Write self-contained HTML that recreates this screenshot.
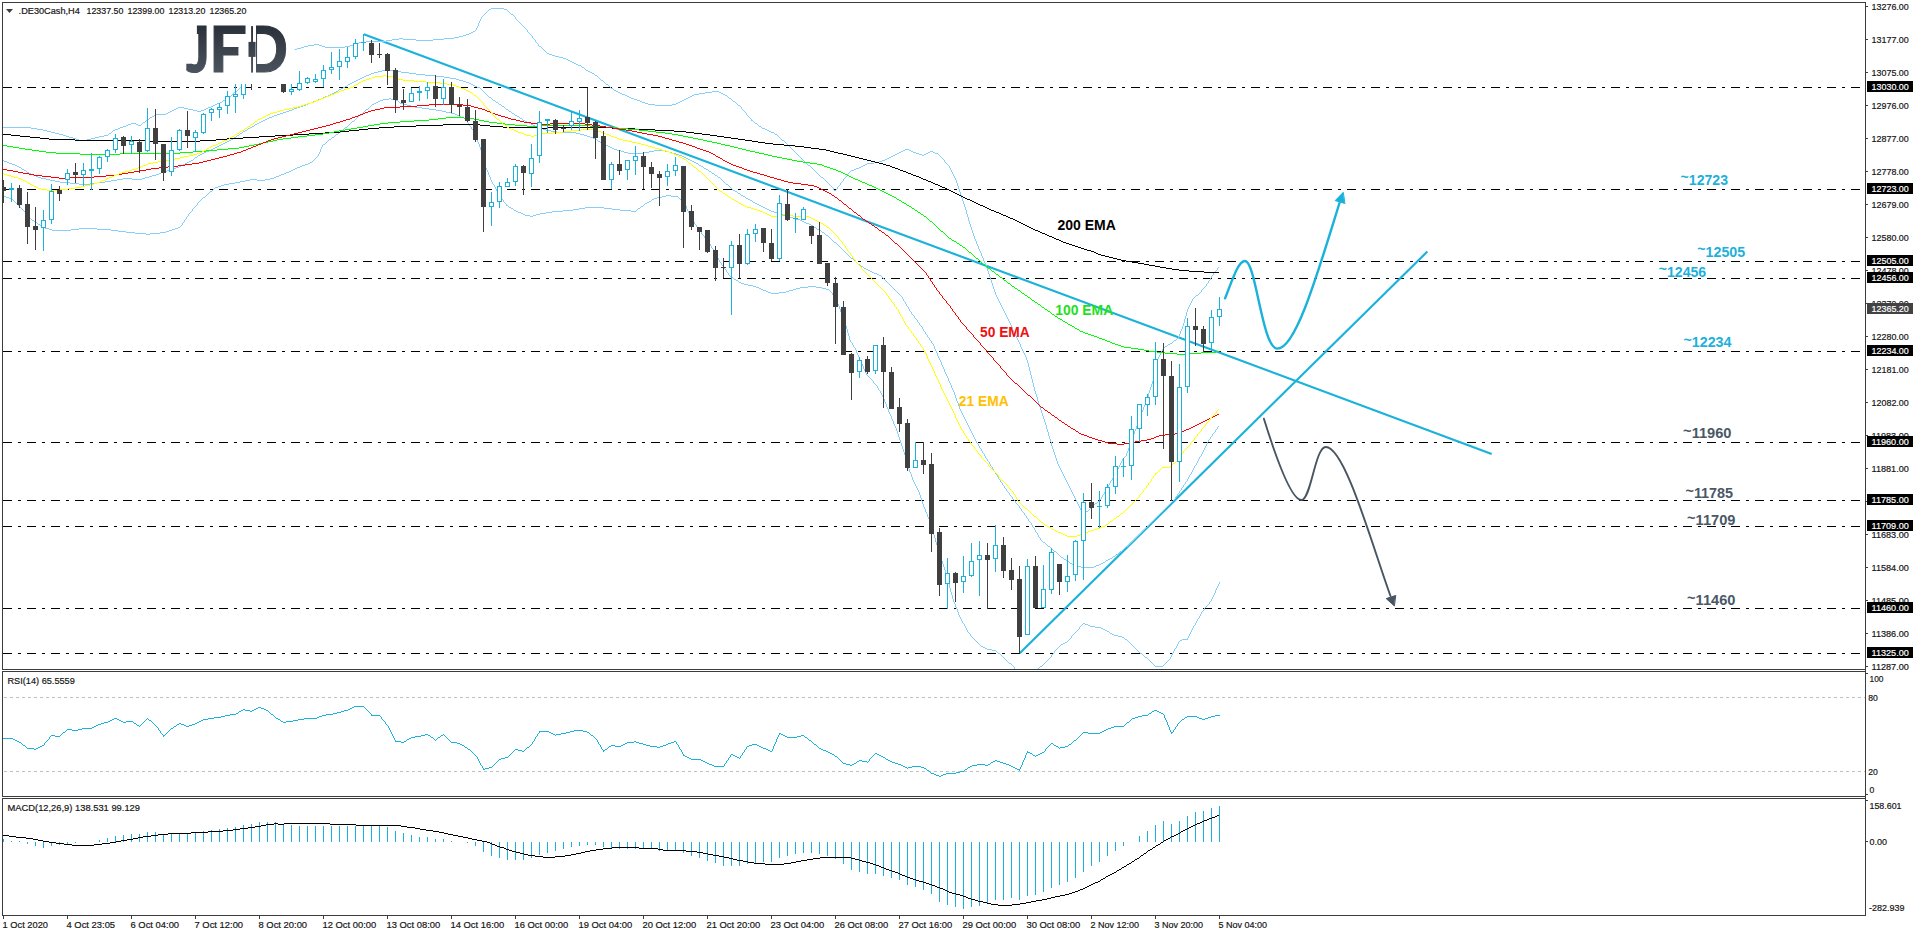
<!DOCTYPE html>
<html lang="en"><head><meta charset="utf-8"><title>.DE30Cash H4</title>
<style>html,body{margin:0;padding:0;background:#fff}body{width:1916px;height:936px;overflow:hidden}svg{display:block}text{font-family:"Liberation Sans","DejaVu Sans",sans-serif}.s{font-size:9.8px;fill:#151515;stroke:#151515;stroke-width:.2px}.w{font-size:9.8px;fill:#fff;stroke:#fff;stroke-width:.2px}.b{font-size:14.2px;font-weight:bold}</style></head><body>
<svg width="1916" height="936" viewBox="0 0 1916 936">
<defs><linearGradient id="lg" x1="0" y1="0" x2="0" y2="1"><stop offset="0.19" stop-color="#2b313a"/><stop offset="0.81" stop-color="#4a535d"/></linearGradient><linearGradient id="lgr" gradientUnits="userSpaceOnUse" x1="0" y1="26" x2="0" y2="73"><stop offset="0" stop-color="#2b313a"/><stop offset="1" stop-color="#4a535d"/></linearGradient><clipPath id="main"><rect x="3" y="3" width="1862" height="666"/></clipPath><clipPath id="dclip"><rect x="256" y="20" width="40" height="60"/></clipPath><clipPath id="jclip"><path d="M196.9 20 H210 V80 H186.3 V63.8 H196.9 Z"/></clipPath><clipPath id="fclip"><path d="M210 20 H246 V40 H238.4 V60 H210 Z M210 60 H246 V80 H210 Z"/></clipPath></defs>
<rect width="1916" height="936" fill="#fff"/>
<g shape-rendering="crispEdges" stroke="#000" stroke-width="1" stroke-dasharray="9 6 3 6">
<line x1="3" y1="87.5" x2="1865" y2="87.5"/>
<line x1="3" y1="189.5" x2="1865" y2="189.5"/>
<line x1="3" y1="261.5" x2="1865" y2="261.5"/>
<line x1="3" y1="278.5" x2="1865" y2="278.5"/>
<line x1="3" y1="351.5" x2="1865" y2="351.5"/>
<line x1="3" y1="442.5" x2="1865" y2="442.5"/>
<line x1="3" y1="500.5" x2="1865" y2="500.5"/>
<line x1="3" y1="526.5" x2="1865" y2="526.5"/>
<line x1="3" y1="608.5" x2="1865" y2="608.5"/>
<line x1="3" y1="653.5" x2="1865" y2="653.5"/>
</g>
<g shape-rendering="crispEdges" stroke="#c0c0c0" stroke-width="1" stroke-dasharray="3 3">
<line x1="4" y1="697.5" x2="1865" y2="697.5"/><line x1="4" y1="771.5" x2="1865" y2="771.5"/></g>
<g clip-path="url(#main)" fill="none" stroke="#1ab2da" stroke-linecap="butt">
<line x1="363.8" y1="34.3" x2="1491.7" y2="453.9" stroke-width="2.15"/>
<line x1="1019.7" y1="653.2" x2="1427.3" y2="251.6" stroke-width="2.15"/>
</g>
<g clip-path="url(#main)" shape-rendering="crispEdges">
<path d="M3 127h28v1h-28zM31 128h6v1h-6zM37 129h6v1h-6zM43 130h4v1h-4zM47 131h4v1h-4zM51 132h4v1h-4zM55 133h4v1h-4zM59 134h4v1h-4zM63 135h3v1h-3zM66 136h3v1h-3zM69 137h4v1h-4zM73 138h3v1h-3zM76 139h3v1h-3zM79 140h8v1h-8zM87 139h4v1h-4zM91 138h4v1h-4zM95 137h4v1h-4zM99 136h5v1h-5zM104 135h4v1h-4zM108 134h1v1h-1zM109 133h2v1h-2zM111 132h1v1h-1zM112 131h1v1h-1zM113 130h2v1h-2zM115 129h3v1h-3zM118 128h2v1h-2zM120 127h3v1h-3zM123 126h3v1h-3zM126 125h2v1h-2zM128 124h3v1h-3zM131 123h5v1h-5zM136 124h2v1h-2zM138 125h3v1h-3zM141 124h1v1h-1zM142 123h1v1h-1zM143 122h2v1h-2zM145 121h1v1h-1zM146 120h1v1h-1zM147 119h2v1h-2zM149 118h1v1h-1zM150 117h2v1h-2zM152 116h2v1h-2zM154 115h2v1h-2zM156 114h10v1h-10zM166 113h2v1h-2zM168 112h2v1h-2zM170 111h2v1h-2zM172 110h2v1h-2zM174 109h2v1h-2zM176 108h2v1h-2zM178 107h6v1h-6zM184 108h4v1h-4zM188 109h5v1h-5zM193 110h4v1h-4zM197 111h4v1h-4zM201 110h3v1h-3zM204 109h2v1h-2zM206 108h2v1h-2zM208 107h3v1h-3zM211 106h2v1h-2zM213 105h2v1h-2zM215 104h2v1h-2zM217 103h3v1h-3zM220 102h2v1h-2zM222 101h1v1h-1zM223 100h2v1h-2zM225 99h1v1h-1zM226 98h2v1h-2zM228 97h1v1h-1zM229 96h2v1h-2zM231 95h1v1h-1zM232 94h1v1h-1zM233 93h1v1h-1zM234 92h1v1h-1zM235 91h2v1h-2zM237 90h1v1h-1zM238 89h1v1h-1zM239 88h1v1h-1zM240 87h1v1h-1zM241 86h1v1h-1zM242 85h1v1h-1zM243 84h1v1h-1zM244 83h1v1h-1zM245 82h1v1h-1zM246 81h1v1h-1zM247 80h1v1h-1zM248 79h1v1h-1zM249 78h2v1h-2zM251 77h1v1h-1zM252 76h1v1h-1zM253 75h1v1h-1zM254 74h1v1h-1zM255 73h1v1h-1zM256 72h2v1h-2zM258 71h1v1h-1zM259 70h1v1h-1zM260 69h1v1h-1zM261 68h2v1h-2zM263 67h1v1h-1zM264 66h1v1h-1zM265 65h1v1h-1zM266 64h2v1h-2zM268 63h1v1h-1zM269 62h1v1h-1zM270 61h1v1h-1zM271 60h2v1h-2zM273 59h1v1h-1zM274 58h1v1h-1zM275 57h2v1h-2zM277 56h3v1h-3zM280 55h2v1h-2zM282 54h3v1h-3zM285 53h2v1h-2zM287 52h2v1h-2zM289 51h3v1h-3zM292 50h2v1h-2zM294 49h3v1h-3zM297 48h4v1h-4zM301 47h3v1h-3zM304 46h4v1h-4zM308 45h6v1h-6zM314 44h5v1h-5zM319 45h3v1h-3zM322 46h3v1h-3zM325 47h20v1h-20zM345 46h5v1h-5zM350 45h3v1h-3zM353 44h3v1h-3zM356 43h3v1h-3zM359 42h7v1h-7zM366 41h20v1h-20zM386 40h6v1h-6zM392 39h7v1h-7zM399 38h4v1h-4zM403 39h13v1h-13zM416 40h17v1h-17zM433 39h11v1h-11zM444 38h10v1h-10zM454 37h5v1h-5zM459 36h4v1h-4zM463 35h3v1h-3zM466 34h3v1h-3zM469 33h2v1h-2zM471 32h2v1h-2zM473 31h2v1h-2zM475 30h1v1h-1zM476 28h1v2h-1zM477 26h1v2h-1zM478 23h1v3h-1zM479 21h1v2h-1zM480 19h1v2h-1zM481 17h1v2h-1zM482 16h1v1h-1zM483 15h1v1h-1zM484 14h1v1h-1zM485 13h1v1h-1zM486 12h1v1h-1zM487 11h1v1h-1zM488 10h1v1h-1zM489 9h2v1h-2zM491 8h13v1h-13zM504 9h3v1h-3zM507 10h1v1h-1zM508 11h1v1h-1zM509 12h1v1h-1zM510 13h1v1h-1zM511 14h2v1h-2zM513 15h1v1h-1zM514 16h1v1h-1zM515 17h1v2h-1zM516 19h1v1h-1zM517 20h1v1h-1zM518 21h1v1h-1zM519 22h1v1h-1zM520 23h1v1h-1zM521 24h1v1h-1zM522 25h1v1h-1zM523 26h1v1h-1zM524 27h1v1h-1zM525 28h1v1h-1zM526 29h1v1h-1zM527 30h1v2h-1zM528 32h1v1h-1zM529 33h1v1h-1zM530 34h1v1h-1zM531 35h1v1h-1zM532 36h1v2h-1zM533 38h1v1h-1zM534 39h1v1h-1zM535 40h1v2h-1zM536 42h1v1h-1zM537 43h1v1h-1zM538 44h1v2h-1zM539 46h2v1h-2zM541 47h1v1h-1zM542 48h1v1h-1zM543 49h1v1h-1zM544 50h1v1h-1zM545 51h1v1h-1zM546 52h1v1h-1zM547 53h2v1h-2zM549 54h3v1h-3zM552 55h3v1h-3zM555 56h4v1h-4zM559 57h4v1h-4zM563 58h3v1h-3zM566 59h2v1h-2zM568 60h2v1h-2zM570 61h2v1h-2zM572 62h2v1h-2zM574 63h2v1h-2zM576 64h2v1h-2zM578 65h3v1h-3zM581 66h1v1h-1zM582 67h2v1h-2zM584 68h1v1h-1zM585 69h1v1h-1zM586 70h2v1h-2zM588 71h2v1h-2zM590 72h2v1h-2zM592 73h2v1h-2zM594 74h1v1h-1zM595 75h2v1h-2zM597 76h1v1h-1zM598 77h1v1h-1zM599 78h1v1h-1zM600 79h1v1h-1zM601 80h2v1h-2zM603 81h1v1h-1zM604 82h1v1h-1zM605 83h1v1h-1zM606 84h2v1h-2zM608 85h1v1h-1zM609 86h1v1h-1zM610 87h1v1h-1zM611 88h2v1h-2zM613 89h1v1h-1zM614 90h2v1h-2zM616 91h2v1h-2zM618 92h2v1h-2zM620 93h2v1h-2zM622 94h3v1h-3zM625 95h2v1h-2zM627 96h2v1h-2zM629 97h2v1h-2zM631 98h3v1h-3zM634 99h3v1h-3zM637 100h3v1h-3zM640 101h2v1h-2zM642 102h3v1h-3zM645 103h3v1h-3zM648 104h7v1h-7zM655 105h17v1h-17zM672 104h4v1h-4zM676 103h2v1h-2zM678 102h2v1h-2zM680 101h2v1h-2zM682 100h2v1h-2zM684 99h2v1h-2zM686 98h2v1h-2zM688 97h2v1h-2zM690 96h2v1h-2zM692 95h2v1h-2zM694 94h5v1h-5zM699 93h6v1h-6zM705 92h7v1h-7zM712 91h7v1h-7zM719 92h2v1h-2zM721 93h2v1h-2zM723 94h2v1h-2zM725 95h2v1h-2zM727 96h1v1h-1zM728 97h1v1h-1zM729 98h2v1h-2zM731 99h1v1h-1zM732 100h1v1h-1zM733 101h2v1h-2zM735 102h1v1h-1zM736 103h1v1h-1zM737 104h1v1h-1zM738 105h2v1h-2zM740 106h1v1h-1zM741 107h1v2h-1zM742 109h1v1h-1zM743 110h1v1h-1zM744 111h1v1h-1zM745 112h1v1h-1zM746 113h1v2h-1zM747 115h1v1h-1zM748 116h1v1h-1zM749 117h1v1h-1zM750 118h1v1h-1zM751 119h1v2h-1zM752 120h1v1h-1zM753 121h1v1h-1zM754 122h1v1h-1zM755 123h2v1h-2zM757 124h1v1h-1zM758 125h1v1h-1zM759 126h2v1h-2zM761 127h1v1h-1zM762 128h3v1h-3zM765 129h2v1h-2zM767 130h2v1h-2zM769 131h2v1h-2zM771 132h3v1h-3zM774 133h1v1h-1zM775 134h2v1h-2zM777 135h1v1h-1zM778 136h1v1h-1zM779 137h1v1h-1zM780 138h1v1h-1zM781 139h1v1h-1zM782 140h2v1h-2zM784 141h1v1h-1zM785 142h1v1h-1zM786 143h1v1h-1zM787 144h1v1h-1zM788 145h1v1h-1zM789 146h1v1h-1zM790 147h1v1h-1zM791 148h1v1h-1zM792 149h1v1h-1zM793 150h1v1h-1zM794 151h1v1h-1zM795 152h1v1h-1zM796 153h1v1h-1zM797 154h1v1h-1zM798 155h1v1h-1zM799 156h1v1h-1zM800 157h1v1h-1zM801 158h1v1h-1zM802 159h1v1h-1zM803 160h1v1h-1zM804 161h1v1h-1zM805 162h1v1h-1zM806 163h1v1h-1zM807 164h1v1h-1zM808 165h2v1h-2zM810 166h1v1h-1zM811 167h1v1h-1zM812 168h1v1h-1zM813 169h1v1h-1zM814 170h1v1h-1zM815 171h1v1h-1zM816 172h1v1h-1zM817 173h1v1h-1zM818 174h1v1h-1zM819 175h1v1h-1zM820 176h1v1h-1zM821 177h2v1h-2zM823 178h1v1h-1zM824 179h1v1h-1zM825 180h1v1h-1zM826 181h1v1h-1zM827 182h1v1h-1zM828 183h1v1h-1zM829 184h1v1h-1zM830 185h1v1h-1zM831 186h1v1h-1zM832 187h1v1h-1zM833 188h1v2h-1zM834 190h2v1h-2zM836 189h1v1h-1zM837 187h1v2h-1zM838 186h1v1h-1zM839 185h1v1h-1zM840 183h1v2h-1zM841 182h1v1h-1zM842 181h1v1h-1zM843 179h1v2h-1zM844 178h1v1h-1zM845 177h1v1h-1zM846 176h1v1h-1zM847 174h1v2h-1zM848 173h1v1h-1zM849 172h1v1h-1zM850 171h1v1h-1zM851 170h3v1h-3zM854 169h2v1h-2zM856 168h3v1h-3zM859 167h2v1h-2zM861 166h2v1h-2zM863 165h2v1h-2zM865 164h2v1h-2zM867 163h7v1h-7zM874 162h5v1h-5zM879 161h3v1h-3zM882 160h3v1h-3zM885 159h2v1h-2zM887 158h2v1h-2zM889 157h2v1h-2zM891 156h2v1h-2zM893 155h2v1h-2zM895 154h2v1h-2zM897 153h2v1h-2zM899 152h2v1h-2zM901 151h2v1h-2zM903 150h2v1h-2zM905 149h4v1h-4zM909 150h2v1h-2zM911 151h2v1h-2zM913 152h3v1h-3zM916 153h3v1h-3zM919 154h3v1h-3zM922 155h2v1h-2zM924 154h2v1h-2zM926 153h2v1h-2zM928 152h2v1h-2zM930 151h3v1h-3zM933 152h2v1h-2zM935 153h3v1h-3zM938 154h1v1h-1zM939 155h1v1h-1zM940 156h1v1h-1zM941 157h1v1h-1zM942 158h1v1h-1zM943 159h1v1h-1zM944 160h1v2h-1zM945 162h1v1h-1zM946 163h1v1h-1zM947 164h1v1h-1zM948 165h1v1h-1zM949 166h1v2h-1zM950 168h1v2h-1zM951 170h1v2h-1zM952 172h1v2h-1zM953 174h1v2h-1zM954 176h1v2h-1zM955 178h1v2h-1zM956 180h1v3h-1zM957 183h1v3h-1zM958 186h1v3h-1zM959 189h1v3h-1zM960 192h1v3h-1zM961 195h1v3h-1zM962 198h1v3h-1zM963 201h1v3h-1zM964 204h1v3h-1zM965 207h1v3h-1zM966 210h1v4h-1zM967 214h1v3h-1zM968 217h1v4h-1zM969 221h1v3h-1zM970 224h1v3h-1zM971 227h1v3h-1zM972 230h1v3h-1zM973 233h1v3h-1zM974 236h1v3h-1zM975 239h1v2h-1zM976 241h1v3h-1zM977 244h1v2h-1zM978 246h1v3h-1zM979 249h1v2h-1zM980 251h1v2h-1zM981 253h1v3h-1zM982 256h1v2h-1zM983 258h1v3h-1zM984 261h1v2h-1zM985 263h1v2h-1zM986 265h1v3h-1zM987 268h1v3h-1zM988 271h1v3h-1zM989 274h1v3h-1zM990 277h1v3h-1zM991 280h1v3h-1zM992 283h1v3h-1zM993 286h1v3h-1zM994 289h1v3h-1zM995 292h1v3h-1zM996 295h1v2h-1zM997 297h1v2h-1zM998 299h1v2h-1zM999 301h1v2h-1zM1000 303h1v2h-1zM1001 305h1v2h-1zM1002 307h1v2h-1zM1003 309h1v2h-1zM1004 311h1v2h-1zM1005 313h1v2h-1zM1006 315h1v2h-1zM1007 317h1v2h-1zM1008 319h1v2h-1zM1009 321h1v2h-1zM1010 323h1v2h-1zM1011 325h1v2h-1zM1012 327h1v3h-1zM1013 330h1v2h-1zM1014 332h1v2h-1zM1015 334h1v2h-1zM1016 336h1v2h-1zM1017 338h1v2h-1zM1018 340h1v2h-1zM1019 342h1v2h-1zM1020 344h1v3h-1zM1021 347h1v2h-1zM1022 349h1v2h-1zM1023 351h1v2h-1zM1024 353h1v2h-1zM1025 355h1v2h-1zM1026 357h1v3h-1zM1027 360h1v3h-1zM1028 363h1v4h-1zM1029 367h1v4h-1zM1030 371h1v4h-1zM1031 375h1v4h-1zM1032 379h1v4h-1zM1033 383h1v4h-1zM1034 387h1v4h-1zM1035 391h1v3h-1zM1036 394h1v3h-1zM1037 397h1v4h-1zM1038 401h1v3h-1zM1039 404h1v3h-1zM1040 407h1v3h-1zM1041 410h1v3h-1zM1042 413h1v3h-1zM1043 416h1v3h-1zM1044 419h1v3h-1zM1045 422h1v3h-1zM1046 425h1v4h-1zM1047 429h1v3h-1zM1048 432h1v4h-1zM1049 436h1v3h-1zM1050 439h1v3h-1zM1051 442h1v4h-1zM1052 446h1v3h-1zM1053 449h1v3h-1zM1054 452h1v3h-1zM1055 455h1v3h-1zM1056 458h1v3h-1zM1057 461h1v3h-1zM1058 464h1v2h-1zM1059 466h1v2h-1zM1060 468h1v2h-1zM1061 470h1v2h-1zM1062 472h1v2h-1zM1063 474h1v2h-1zM1064 476h1v2h-1zM1065 478h1v2h-1zM1066 480h1v2h-1zM1067 482h1v2h-1zM1068 484h1v2h-1zM1069 486h1v2h-1zM1070 488h1v2h-1zM1071 490h1v2h-1zM1072 492h1v2h-1zM1073 494h1v2h-1zM1074 496h1v2h-1zM1075 498h1v2h-1zM1076 500h1v2h-1zM1077 502h1v2h-1zM1078 504h1v2h-1zM1079 506h1v2h-1zM1080 508h1v2h-1zM1081 510h2v1h-2zM1083 511h5v1h-5zM1088 510h1v1h-1zM1089 509h1v1h-1zM1090 508h1v1h-1zM1091 507h1v1h-1zM1092 506h1v1h-1zM1093 505h1v1h-1zM1094 504h1v1h-1zM1095 503h2v1h-2zM1097 502h1v1h-1zM1098 501h1v1h-1zM1099 500h1v1h-1zM1100 499h1v1h-1zM1101 497h1v2h-1zM1102 495h1v2h-1zM1103 494h1v1h-1zM1104 492h1v2h-1zM1105 490h1v2h-1zM1106 488h1v2h-1zM1107 487h1v1h-1zM1108 485h1v2h-1zM1109 483h1v2h-1zM1110 481h1v2h-1zM1111 480h1v1h-1zM1112 478h1v2h-1zM1113 476h1v2h-1zM1114 474h1v2h-1zM1115 473h1v1h-1zM1116 471h1v2h-1zM1117 469h1v2h-1zM1118 467h1v2h-1zM1119 465h1v2h-1zM1120 463h1v2h-1zM1121 461h1v2h-1zM1122 459h1v2h-1zM1123 458h1v1h-1zM1124 457h1v1h-1zM1125 456h1v1h-1zM1126 453h1v3h-1zM1127 451h1v2h-1zM1128 448h1v3h-1zM1129 445h1v3h-1zM1130 442h1v3h-1zM1131 439h1v3h-1zM1132 437h1v2h-1zM1133 434h1v3h-1zM1134 431h1v3h-1zM1135 429h1v2h-1zM1136 426h1v3h-1zM1137 423h1v3h-1zM1138 420h1v3h-1zM1139 418h1v2h-1zM1140 415h1v3h-1zM1141 412h1v3h-1zM1142 410h1v2h-1zM1143 407h1v3h-1zM1144 405h1v2h-1zM1145 402h1v3h-1zM1146 400h1v2h-1zM1147 397h1v3h-1zM1148 393h1v4h-1zM1149 390h1v3h-1zM1150 387h1v3h-1zM1151 384h1v3h-1zM1152 381h1v3h-1zM1153 378h1v3h-1zM1154 373h1v5h-1zM1155 368h1v5h-1zM1156 363h1v5h-1zM1157 359h1v4h-1zM1158 357h1v2h-1zM1159 355h1v2h-1zM1160 353h1v2h-1zM1161 351h1v2h-1zM1162 349h1v2h-1zM1163 347h1v2h-1zM1164 347h1v1h-1zM1165 346h2v1h-2zM1167 345h1v1h-1zM1168 344h2v1h-2zM1170 343h2v1h-2zM1172 342h1v1h-1zM1173 341h1v1h-1zM1174 340h2v1h-2zM1176 339h1v1h-1zM1177 338h1v1h-1zM1178 336h1v2h-1zM1179 334h1v2h-1zM1180 331h1v3h-1zM1181 329h1v2h-1zM1182 326h1v3h-1zM1183 323h1v3h-1zM1184 319h1v4h-1zM1185 316h1v3h-1zM1186 312h1v4h-1zM1187 309h1v3h-1zM1188 307h1v2h-1zM1189 305h1v2h-1zM1190 303h1v2h-1zM1191 301h1v2h-1zM1192 299h1v2h-1zM1193 298h1v1h-1zM1194 297h1v1h-1zM1195 296h1v1h-1zM1196 295h2v1h-2zM1198 294h1v1h-1zM1199 293h1v1h-1zM1200 292h1v1h-1zM1201 290h1v2h-1zM1202 289h1v1h-1zM1203 288h1v1h-1zM1204 287h1v1h-1zM1205 286h1v1h-1zM1206 284h1v2h-1zM1207 283h1v1h-1zM1208 281h1v2h-1zM1209 280h1v1h-1zM1210 278h1v2h-1zM1211 276h1v2h-1zM1212 275h1v1h-1zM1213 273h1v2h-1zM1214 272h1v1h-1zM1215 271h1v1h-1zM1216 270h1v1h-1zM1217 268h1v2h-1zM1218 267h1v1h-1z" fill="#87cefa" shape-rendering="crispEdges"/>
<path d="M3 160h1v1h-1zM4 161h3v1h-3zM7 162h2v1h-2zM9 163h3v1h-3zM12 164h3v1h-3zM15 165h2v1h-2zM17 166h2v1h-2zM19 167h2v1h-2zM21 168h1v1h-1zM22 169h2v1h-2zM24 170h2v1h-2zM26 171h1v1h-1zM27 172h2v1h-2zM29 173h2v1h-2zM31 174h2v1h-2zM33 175h3v1h-3zM36 176h2v1h-2zM38 177h3v1h-3zM41 178h5v1h-5zM46 179h4v1h-4zM50 180h5v1h-5zM55 181h5v1h-5zM60 182h10v1h-10zM70 183h9v1h-9zM79 184h11v1h-11zM90 183h7v1h-7zM97 182h8v1h-8zM105 181h6v1h-6zM111 180h6v1h-6zM117 179h6v1h-6zM123 178h9v1h-9zM132 179h10v1h-10zM142 178h3v1h-3zM145 177h4v1h-4zM149 176h3v1h-3zM152 175h4v1h-4zM156 174h3v1h-3zM159 173h2v1h-2zM161 172h3v1h-3zM164 171h3v1h-3zM167 170h3v1h-3zM170 169h3v1h-3zM173 168h3v1h-3zM176 167h3v1h-3zM179 166h2v1h-2zM181 165h2v1h-2zM183 164h2v1h-2zM185 163h2v1h-2zM187 162h2v1h-2zM189 161h2v1h-2zM191 160h2v1h-2zM193 159h1v1h-1zM194 158h1v1h-1zM195 157h2v1h-2zM197 156h1v1h-1zM198 155h2v1h-2zM200 154h2v1h-2zM202 153h2v1h-2zM204 152h2v1h-2zM206 151h3v1h-3zM209 150h2v1h-2zM211 149h2v1h-2zM213 148h2v1h-2zM215 147h2v1h-2zM217 146h2v1h-2zM219 145h2v1h-2zM221 144h2v1h-2zM223 143h2v1h-2zM225 142h2v1h-2zM227 141h2v1h-2zM229 140h2v1h-2zM231 139h2v1h-2zM233 138h1v1h-1zM234 137h2v1h-2zM236 136h1v1h-1zM237 135h2v1h-2zM239 134h1v1h-1zM240 133h2v1h-2zM242 132h1v1h-1zM243 131h2v1h-2zM245 130h2v1h-2zM247 129h1v1h-1zM248 128h2v1h-2zM250 127h2v1h-2zM252 126h2v1h-2zM254 125h1v1h-1zM255 124h2v1h-2zM257 123h2v1h-2zM259 122h2v1h-2zM261 121h2v1h-2zM263 120h2v1h-2zM265 119h2v1h-2zM267 118h2v1h-2zM269 117h3v1h-3zM272 116h2v1h-2zM274 115h3v1h-3zM277 114h3v1h-3zM280 113h3v1h-3zM283 112h3v1h-3zM286 111h3v1h-3zM289 110h3v1h-3zM292 109h2v1h-2zM294 108h3v1h-3zM297 107h3v1h-3zM300 106h3v1h-3zM303 105h3v1h-3zM306 104h2v1h-2zM308 103h3v1h-3zM311 102h2v1h-2zM313 101h3v1h-3zM316 100h2v1h-2zM318 99h3v1h-3zM321 98h2v1h-2zM323 97h2v1h-2zM325 96h3v1h-3zM328 95h2v1h-2zM330 94h2v1h-2zM332 93h2v1h-2zM334 92h2v1h-2zM336 91h2v1h-2zM338 90h1v1h-1zM339 89h2v1h-2zM341 88h2v1h-2zM343 87h2v1h-2zM345 86h2v1h-2zM347 85h1v1h-1zM348 84h2v1h-2zM350 83h2v1h-2zM352 82h2v1h-2zM354 81h2v1h-2zM356 80h2v1h-2zM358 79h2v1h-2zM360 78h2v1h-2zM362 77h2v1h-2zM364 76h2v1h-2zM366 75h3v1h-3zM369 74h2v1h-2zM371 73h3v1h-3zM374 72h4v1h-4zM378 71h4v1h-4zM382 70h13v1h-13zM395 71h6v1h-6zM401 72h8v1h-8zM409 73h7v1h-7zM416 74h9v1h-9zM425 75h11v1h-11zM436 76h8v1h-8zM444 77h6v1h-6zM450 78h6v1h-6zM456 79h3v1h-3zM459 80h4v1h-4zM463 81h3v1h-3zM466 82h3v1h-3zM469 83h2v1h-2zM471 84h2v1h-2zM473 85h2v1h-2zM475 86h2v1h-2zM477 87h3v1h-3zM480 88h1v1h-1zM481 89h1v1h-1zM482 90h1v1h-1zM483 91h1v1h-1zM484 92h1v1h-1zM485 93h1v1h-1zM486 94h1v1h-1zM487 95h1v1h-1zM488 96h1v1h-1zM489 97h2v1h-2zM491 98h1v1h-1zM492 99h1v1h-1zM493 100h2v1h-2zM495 101h1v1h-1zM496 102h2v1h-2zM498 103h1v1h-1zM499 104h2v1h-2zM501 105h1v1h-1zM502 106h2v1h-2zM504 107h1v1h-1zM505 108h1v1h-1zM506 109h2v1h-2zM508 110h1v1h-1zM509 111h2v1h-2zM511 112h1v1h-1zM512 113h2v1h-2zM514 114h1v1h-1zM515 115h2v1h-2zM517 116h2v1h-2zM519 117h1v1h-1zM520 118h2v1h-2zM522 119h1v1h-1zM523 120h2v1h-2zM525 121h2v1h-2zM527 122h2v1h-2zM529 123h2v1h-2zM531 124h2v1h-2zM533 125h2v1h-2zM535 126h2v1h-2zM537 127h3v1h-3zM540 128h3v1h-3zM543 129h3v1h-3zM546 130h5v1h-5zM551 131h6v1h-6zM557 132h19v1h-19zM576 133h4v1h-4zM580 134h4v1h-4zM584 135h3v1h-3zM587 136h3v1h-3zM590 137h3v1h-3zM593 138h2v1h-2zM595 139h2v1h-2zM597 140h1v1h-1zM598 141h2v1h-2zM600 142h2v1h-2zM602 143h2v1h-2zM604 144h2v1h-2zM606 145h2v1h-2zM608 146h2v1h-2zM610 147h2v1h-2zM612 148h2v1h-2zM614 149h3v1h-3zM617 150h4v1h-4zM621 151h3v1h-3zM624 152h4v1h-4zM628 153h16v1h-16zM644 152h5v1h-5zM649 151h5v1h-5zM654 150h11v1h-11zM665 151h4v1h-4zM669 152h3v1h-3zM672 153h4v1h-4zM676 154h3v1h-3zM679 155h3v1h-3zM682 156h2v1h-2zM684 157h2v1h-2zM686 158h2v1h-2zM688 159h2v1h-2zM690 160h2v1h-2zM692 161h2v1h-2zM694 162h2v1h-2zM696 163h2v1h-2zM698 164h1v1h-1zM699 165h2v1h-2zM701 166h2v1h-2zM703 167h1v1h-1zM704 168h2v1h-2zM706 169h2v1h-2zM708 170h1v1h-1zM709 171h2v1h-2zM711 172h1v1h-1zM712 173h2v1h-2zM714 174h1v1h-1zM715 175h2v1h-2zM717 176h1v1h-1zM718 177h2v1h-2zM720 178h1v1h-1zM721 179h1v1h-1zM722 180h1v1h-1zM723 181h1v1h-1zM724 182h1v1h-1zM725 183h1v1h-1zM726 184h2v1h-2zM728 185h1v1h-1zM729 186h1v1h-1zM730 187h1v1h-1zM731 188h1v1h-1zM732 189h1v1h-1zM733 190h2v1h-2zM735 191h2v1h-2zM737 192h1v1h-1zM738 193h2v1h-2zM740 194h1v1h-1zM741 195h2v1h-2zM743 196h2v1h-2zM745 197h1v1h-1zM746 198h2v1h-2zM748 199h2v1h-2zM750 200h2v1h-2zM752 201h1v1h-1zM753 202h2v1h-2zM755 203h2v1h-2zM757 204h2v1h-2zM759 205h2v1h-2zM761 206h2v1h-2zM763 207h2v1h-2zM765 208h2v1h-2zM767 209h2v1h-2zM769 210h2v1h-2zM771 211h3v1h-3zM774 212h3v1h-3zM777 213h3v1h-3zM780 214h3v1h-3zM783 215h3v1h-3zM786 216h3v1h-3zM789 217h4v1h-4zM793 218h3v1h-3zM796 219h4v1h-4zM800 220h2v1h-2zM802 221h2v1h-2zM804 222h2v1h-2zM806 223h3v1h-3zM809 224h2v1h-2zM811 225h2v1h-2zM813 226h1v1h-1zM814 227h2v1h-2zM816 228h1v1h-1zM817 229h2v1h-2zM819 230h2v1h-2zM821 231h1v1h-1zM822 232h2v1h-2zM824 233h1v1h-1zM825 234h1v1h-1zM826 235h2v1h-2zM828 236h1v1h-1zM829 237h1v1h-1zM830 238h1v1h-1zM831 239h1v1h-1zM832 240h1v1h-1zM833 241h1v1h-1zM834 242h2v1h-2zM836 243h1v1h-1zM837 244h1v1h-1zM838 245h1v1h-1zM839 246h1v1h-1zM840 247h1v1h-1zM841 248h1v1h-1zM842 249h1v1h-1zM843 250h1v1h-1zM844 251h1v1h-1zM845 252h1v1h-1zM846 253h1v1h-1zM847 254h1v1h-1zM848 255h1v1h-1zM849 256h1v1h-1zM850 257h1v1h-1zM851 258h2v1h-2zM853 259h1v1h-1zM854 260h1v1h-1zM855 261h1v1h-1zM856 262h1v1h-1zM857 263h1v1h-1zM858 264h2v1h-2zM860 265h1v1h-1zM861 266h2v1h-2zM863 267h1v1h-1zM864 268h2v1h-2zM866 269h2v1h-2zM868 270h2v1h-2zM870 271h2v1h-2zM872 272h2v1h-2zM874 273h3v1h-3zM877 274h2v1h-2zM879 275h2v1h-2zM881 276h1v1h-1zM882 277h1v1h-1zM883 278h1v1h-1zM884 279h1v1h-1zM885 280h1v1h-1zM886 281h1v1h-1zM887 282h1v1h-1zM888 283h1v1h-1zM889 284h1v1h-1zM890 285h1v1h-1zM891 286h1v1h-1zM892 287h1v1h-1zM893 288h1v1h-1zM894 289h1v1h-1zM895 290h1v1h-1zM896 291h1v1h-1zM897 292h1v1h-1zM898 293h1v1h-1zM899 294h1v1h-1zM900 295h1v1h-1zM901 296h1v1h-1zM902 297h1v2h-1zM903 299h1v2h-1zM904 301h1v1h-1zM905 302h1v2h-1zM906 304h1v2h-1zM907 306h1v1h-1zM908 307h1v2h-1zM909 309h1v2h-1zM910 311h1v1h-1zM911 312h1v2h-1zM912 314h1v1h-1zM913 315h1v1h-1zM914 316h1v2h-1zM915 318h1v1h-1zM916 319h1v1h-1zM917 320h1v2h-1zM918 322h1v1h-1zM919 323h1v2h-1zM920 325h1v1h-1zM921 326h1v1h-1zM922 327h1v2h-1zM923 329h1v2h-1zM924 331h1v1h-1zM925 332h1v2h-1zM926 334h1v1h-1zM927 335h1v2h-1zM928 337h1v1h-1zM929 338h1v2h-1zM930 340h1v1h-1zM931 341h1v2h-1zM932 343h1v1h-1zM933 344h1v2h-1zM934 346h1v3h-1zM935 349h1v2h-1zM936 351h1v2h-1zM937 353h1v3h-1zM938 356h1v2h-1zM939 358h1v2h-1zM940 360h1v2h-1zM941 362h1v3h-1zM942 365h1v2h-1zM943 367h1v2h-1zM944 369h1v3h-1zM945 372h1v2h-1zM946 374h1v2h-1zM947 376h1v2h-1zM948 378h1v3h-1zM949 381h1v2h-1zM950 383h1v2h-1zM951 385h1v3h-1zM952 388h1v2h-1zM953 390h1v2h-1zM954 392h1v3h-1zM955 395h1v3h-1zM956 398h1v3h-1zM957 401h1v2h-1zM958 403h1v3h-1zM959 406h1v3h-1zM960 409h1v2h-1zM961 411h1v2h-1zM962 413h1v2h-1zM963 415h1v2h-1zM964 417h1v2h-1zM965 419h1v2h-1zM966 421h1v2h-1zM967 423h1v2h-1zM968 425h1v2h-1zM969 427h1v2h-1zM970 429h1v2h-1zM971 431h1v2h-1zM972 433h1v2h-1zM973 435h1v2h-1zM974 437h1v2h-1zM975 439h1v2h-1zM976 441h1v2h-1zM977 443h1v1h-1zM978 444h1v2h-1zM979 446h1v2h-1zM980 448h1v1h-1zM981 449h1v2h-1zM982 451h1v2h-1zM983 453h1v1h-1zM984 454h1v2h-1zM985 456h1v2h-1zM986 458h1v1h-1zM987 459h1v2h-1zM988 461h1v1h-1zM989 462h1v2h-1zM990 464h1v2h-1zM991 466h1v1h-1zM992 467h1v2h-1zM993 469h1v2h-1zM994 471h1v1h-1zM995 472h1v2h-1zM996 474h1v1h-1zM997 475h1v2h-1zM998 477h1v2h-1zM999 479h1v1h-1zM1000 480h1v2h-1zM1001 482h1v1h-1zM1002 483h1v2h-1zM1003 485h1v1h-1zM1004 486h1v2h-1zM1005 488h1v1h-1zM1006 489h1v2h-1zM1007 491h1v1h-1zM1008 492h1v1h-1zM1009 493h1v2h-1zM1010 495h1v1h-1zM1011 496h1v1h-1zM1012 497h1v2h-1zM1013 499h1v1h-1zM1014 500h1v1h-1zM1015 501h1v2h-1zM1016 503h1v1h-1zM1017 504h1v1h-1zM1018 505h1v1h-1zM1019 506h1v2h-1zM1020 508h1v1h-1zM1021 509h1v2h-1zM1022 511h1v1h-1zM1023 512h1v1h-1zM1024 513h1v2h-1zM1025 515h1v1h-1zM1026 516h1v2h-1zM1027 518h1v1h-1zM1028 519h1v2h-1zM1029 521h1v1h-1zM1030 522h1v1h-1zM1031 523h1v2h-1zM1032 525h1v2h-1zM1033 527h1v1h-1zM1034 528h1v2h-1zM1035 530h1v2h-1zM1036 532h1v1h-1zM1037 533h1v2h-1zM1038 535h1v2h-1zM1039 537h1v1h-1zM1040 538h1v2h-1zM1041 540h1v1h-1zM1042 541h1v1h-1zM1043 542h2v1h-2zM1045 543h1v1h-1zM1046 544h1v1h-1zM1047 545h1v1h-1zM1048 546h2v1h-2zM1050 547h1v1h-1zM1051 548h1v1h-1zM1052 549h1v1h-1zM1053 550h1v1h-1zM1054 551h2v1h-2zM1056 552h1v1h-1zM1057 553h1v1h-1zM1058 554h1v1h-1zM1059 555h1v1h-1zM1060 556h1v1h-1zM1061 557h2v1h-2zM1063 558h1v1h-1zM1064 559h2v1h-2zM1066 560h1v1h-1zM1067 561h2v1h-2zM1069 562h1v1h-1zM1070 563h2v1h-2zM1072 564h3v1h-3zM1075 565h3v1h-3zM1078 566h3v1h-3zM1081 567h13v1h-13zM1094 566h2v1h-2zM1096 565h3v1h-3zM1099 564h2v1h-2zM1101 563h2v1h-2zM1103 562h2v1h-2zM1105 561h1v1h-1zM1106 560h2v1h-2zM1108 559h2v1h-2zM1110 558h2v1h-2zM1112 557h1v1h-1zM1113 556h2v1h-2zM1115 555h1v1h-1zM1116 554h2v1h-2zM1118 553h1v1h-1zM1119 552h1v1h-1zM1120 551h2v1h-2zM1122 550h1v1h-1zM1123 549h1v1h-1zM1124 548h1v1h-1zM1125 547h1v1h-1zM1126 546h2v1h-2zM1128 545h1v1h-1zM1129 544h1v1h-1zM1130 543h1v1h-1zM1131 542h1v1h-1zM1132 541h1v1h-1zM1133 540h1v1h-1zM1134 539h1v1h-1zM1135 538h1v1h-1zM1136 537h1v1h-1zM1137 536h1v1h-1zM1138 535h1v1h-1zM1139 534h1v1h-1zM1140 533h1v1h-1zM1141 532h1v1h-1zM1142 531h1v1h-1zM1143 530h1v1h-1zM1144 529h1v1h-1zM1145 528h1v1h-1zM1146 527h1v1h-1zM1147 526h1v1h-1zM1148 525h1v1h-1zM1149 524h1v1h-1zM1150 523h1v1h-1zM1151 522h1v1h-1zM1152 521h1v1h-1zM1153 520h1v1h-1zM1154 519h1v1h-1zM1155 518h1v1h-1zM1156 517h1v1h-1zM1157 516h1v1h-1zM1158 515h1v1h-1zM1159 514h1v1h-1zM1160 513h1v1h-1zM1161 512h1v1h-1zM1162 511h1v1h-1zM1163 510h1v1h-1zM1164 509h1v1h-1zM1165 508h1v1h-1zM1166 507h1v1h-1zM1167 506h1v1h-1zM1168 505h1v1h-1zM1169 504h1v1h-1zM1170 503h1v1h-1zM1171 502h1v1h-1zM1172 501h1v1h-1zM1173 500h1v1h-1zM1174 499h1v1h-1zM1175 497h1v2h-1zM1176 496h1v1h-1zM1177 494h1v2h-1zM1178 493h1v1h-1zM1179 491h1v2h-1zM1180 490h1v1h-1zM1181 488h1v2h-1zM1182 487h1v1h-1zM1183 485h1v2h-1zM1184 484h1v1h-1zM1185 482h1v2h-1zM1186 481h1v1h-1zM1187 479h1v2h-1zM1188 477h1v2h-1zM1189 475h1v2h-1zM1190 474h1v1h-1zM1191 472h1v2h-1zM1192 470h1v2h-1zM1193 468h1v2h-1zM1194 466h1v2h-1zM1195 465h1v1h-1zM1196 463h1v2h-1zM1197 461h1v2h-1zM1198 459h1v2h-1zM1199 457h1v2h-1zM1200 456h1v1h-1zM1201 454h1v2h-1zM1202 452h1v2h-1zM1203 450h1v2h-1zM1204 448h1v2h-1zM1205 446h1v2h-1zM1206 444h1v2h-1zM1207 442h1v2h-1zM1208 440h1v2h-1zM1209 439h1v1h-1zM1210 437h1v2h-1zM1211 436h1v1h-1zM1212 434h1v2h-1zM1213 433h1v1h-1zM1214 432h1v1h-1zM1215 430h1v2h-1zM1216 429h1v1h-1zM1217 427h1v2h-1zM1218 426h1v1h-1z" fill="#87cefa" shape-rendering="crispEdges"/>
<path d="M3 195h1v1h-1zM4 196h2v1h-2zM6 197h3v1h-3zM9 198h3v1h-3zM12 199h1v1h-1zM13 200h1v1h-1zM14 201h1v1h-1zM15 202h1v1h-1zM16 203h1v1h-1zM17 204h1v1h-1zM18 205h1v1h-1zM19 206h1v1h-1zM20 207h1v1h-1zM21 208h1v1h-1zM22 209h1v1h-1zM23 210h1v1h-1zM24 211h1v1h-1zM25 212h1v2h-1zM26 214h1v1h-1zM27 215h1v1h-1zM28 216h1v1h-1zM29 217h1v1h-1zM30 218h1v1h-1zM31 219h1v1h-1zM32 220h2v1h-2zM34 221h1v1h-1zM35 222h2v1h-2zM37 223h1v1h-1zM38 224h2v1h-2zM40 225h1v1h-1zM41 226h1v1h-1zM42 227h3v1h-3zM45 228h4v1h-4zM49 229h3v1h-3zM52 230h19v1h-19zM71 229h8v1h-8zM79 228h18v1h-18zM97 229h14v1h-14zM111 230h7v1h-7zM118 231h8v1h-8zM126 232h9v1h-9zM135 233h11v1h-11zM146 234h4v1h-4zM150 233h10v1h-10zM160 232h6v1h-6zM166 231h3v1h-3zM169 230h3v1h-3zM172 229h3v1h-3zM175 228h3v1h-3zM178 227h2v1h-2zM180 226h1v1h-1zM181 225h1v1h-1zM182 223h1v2h-1zM183 222h1v1h-1zM184 220h1v2h-1zM185 219h1v1h-1zM186 217h1v2h-1zM187 216h1v1h-1zM188 214h1v2h-1zM189 213h1v1h-1zM190 212h1v1h-1zM191 211h1v1h-1zM192 209h1v2h-1zM193 208h1v1h-1zM194 207h1v1h-1zM195 206h1v1h-1zM196 205h1v1h-1zM197 203h1v2h-1zM198 202h1v1h-1zM199 201h1v1h-1zM200 200h1v1h-1zM201 199h1v1h-1zM202 198h1v1h-1zM203 197h2v1h-2zM205 196h1v1h-1zM206 195h1v1h-1zM207 194h1v1h-1zM208 193h1v1h-1zM209 192h1v1h-1zM210 191h2v1h-2zM212 190h1v1h-1zM213 189h1v1h-1zM214 188h1v1h-1zM215 187h3v1h-3zM218 186h3v1h-3zM221 185h3v1h-3zM224 184h5v1h-5zM229 183h6v1h-6zM235 182h5v1h-5zM240 181h5v1h-5zM245 180h5v1h-5zM250 179h7v1h-7zM257 180h8v1h-8zM265 179h5v1h-5zM270 178h4v1h-4zM274 177h2v1h-2zM276 176h3v1h-3zM279 175h2v1h-2zM281 174h3v1h-3zM284 173h2v1h-2zM286 172h3v1h-3zM289 171h2v1h-2zM291 170h2v1h-2zM293 169h2v1h-2zM295 168h2v1h-2zM297 167h3v1h-3zM300 166h2v1h-2zM302 165h3v1h-3zM305 164h3v1h-3zM308 163h2v1h-2zM310 162h2v1h-2zM312 161h1v1h-1zM313 160h1v1h-1zM314 159h1v1h-1zM315 158h1v1h-1zM316 157h1v1h-1zM317 156h1v1h-1zM318 154h1v2h-1zM319 152h1v2h-1zM320 149h1v3h-1zM321 147h1v2h-1zM322 145h1v2h-1zM323 144h2v1h-2zM325 143h1v1h-1zM326 142h1v1h-1zM327 141h1v1h-1zM328 140h1v1h-1zM329 139h2v1h-2zM331 138h1v1h-1zM332 137h2v1h-2zM334 136h1v1h-1zM335 135h1v1h-1zM336 134h2v1h-2zM338 133h1v1h-1zM339 132h2v1h-2zM341 131h1v1h-1zM342 130h1v1h-1zM343 129h1v1h-1zM344 128h1v1h-1zM345 127h2v1h-2zM347 126h1v1h-1zM348 125h1v1h-1zM349 124h1v1h-1zM350 123h1v1h-1zM351 122h1v1h-1zM352 121h2v1h-2zM354 120h1v1h-1zM355 119h1v1h-1zM356 118h1v1h-1zM357 117h1v1h-1zM358 116h1v1h-1zM359 115h2v1h-2zM361 114h1v1h-1zM362 113h1v1h-1zM363 112h1v1h-1zM364 111h1v1h-1zM365 110h1v1h-1zM366 109h2v1h-2zM368 108h1v1h-1zM369 107h1v1h-1zM370 106h1v1h-1zM371 105h1v1h-1zM372 104h2v1h-2zM374 103h2v1h-2zM376 102h2v1h-2zM378 101h2v1h-2zM380 100h3v1h-3zM383 99h6v1h-6zM389 98h2v1h-2zM391 99h5v1h-5zM396 100h2v1h-2zM398 101h1v1h-1zM399 102h1v1h-1zM400 103h4v1h-4zM404 104h3v1h-3zM407 105h4v1h-4zM411 106h4v1h-4zM415 107h7v1h-7zM422 108h7v1h-7zM429 109h7v1h-7zM436 110h6v1h-6zM442 111h4v1h-4zM446 112h5v1h-5zM451 113h4v1h-4zM455 114h2v1h-2zM457 115h2v1h-2zM459 116h2v1h-2zM461 117h3v1h-3zM464 118h1v1h-1zM465 119h1v1h-1zM466 120h1v1h-1zM467 121h1v2h-1zM468 123h1v1h-1zM469 124h1v2h-1zM470 126h1v1h-1zM471 127h1v2h-1zM472 129h1v1h-1zM473 130h1v3h-1zM474 133h1v2h-1zM475 135h1v2h-1zM476 137h1v3h-1zM477 140h1v2h-1zM478 142h1v2h-1zM479 144h1v3h-1zM480 147h1v3h-1zM481 150h1v4h-1zM482 154h1v4h-1zM483 158h1v4h-1zM484 162h1v3h-1zM485 165h1v3h-1zM486 168h1v2h-1zM487 170h1v2h-1zM488 172h1v3h-1zM489 175h1v2h-1zM490 177h1v3h-1zM491 180h1v2h-1zM492 182h1v2h-1zM493 184h1v1h-1zM494 185h1v2h-1zM495 187h1v2h-1zM496 189h1v2h-1zM497 191h1v1h-1zM498 192h1v2h-1zM499 194h1v2h-1zM500 196h1v1h-1zM501 197h1v2h-1zM502 199h1v1h-1zM503 200h1v2h-1zM504 202h1v1h-1zM505 203h1v1h-1zM506 204h1v2h-1zM507 205h1v1h-1zM508 206h1v1h-1zM509 207h2v1h-2zM511 208h2v1h-2zM513 209h1v1h-1zM514 210h2v1h-2zM516 211h2v1h-2zM518 212h3v1h-3zM521 213h2v1h-2zM523 214h2v1h-2zM525 215h5v1h-5zM530 216h3v1h-3zM533 215h3v1h-3zM536 214h4v1h-4zM540 213h6v1h-6zM546 212h6v1h-6zM552 211h11v1h-11zM563 210h10v1h-10zM573 209h6v1h-6zM579 208h6v1h-6zM585 207h19v1h-19zM604 208h8v1h-8zM612 209h8v1h-8zM620 210h11v1h-11zM631 211h5v1h-5zM636 210h1v1h-1zM637 209h1v1h-1zM638 208h2v1h-2zM640 207h1v1h-1zM641 206h2v1h-2zM643 205h1v1h-1zM644 204h1v1h-1zM645 203h2v1h-2zM647 202h2v1h-2zM649 201h2v1h-2zM651 200h1v1h-1zM652 199h2v1h-2zM654 198h3v1h-3zM657 197h5v1h-5zM662 196h4v1h-4zM666 195h5v1h-5zM671 196h7v1h-7zM678 197h1v1h-1zM679 198h1v1h-1zM680 199h1v1h-1zM681 200h1v1h-1zM682 201h1v1h-1zM683 202h1v1h-1zM684 203h1v1h-1zM685 204h1v2h-1zM686 206h1v3h-1zM687 209h1v2h-1zM688 211h1v2h-1zM689 213h1v2h-1zM690 215h1v2h-1zM691 217h1v2h-1zM692 219h1v1h-1zM693 220h1v2h-1zM694 222h1v2h-1zM695 224h1v1h-1zM696 225h1v2h-1zM697 227h1v1h-1zM698 228h1v2h-1zM699 230h1v1h-1zM700 231h1v1h-1zM701 232h1v2h-1zM702 234h1v1h-1zM703 235h1v1h-1zM704 236h1v2h-1zM705 238h1v1h-1zM706 239h1v1h-1zM707 240h1v2h-1zM708 242h1v1h-1zM709 243h1v1h-1zM710 244h1v2h-1zM711 246h1v2h-1zM712 248h1v1h-1zM713 249h1v2h-1zM714 251h1v2h-1zM715 253h1v2h-1zM716 255h1v1h-1zM717 256h1v2h-1zM718 258h1v2h-1zM719 260h1v2h-1zM720 262h1v1h-1zM721 263h1v2h-1zM722 265h1v1h-1zM723 266h1v1h-1zM724 267h1v2h-1zM725 269h1v1h-1zM726 270h1v2h-1zM727 272h1v1h-1zM728 273h1v2h-1zM729 275h1v1h-1zM730 276h1v1h-1zM731 277h2v1h-2zM733 278h1v1h-1zM734 279h2v1h-2zM736 280h2v1h-2zM738 281h1v1h-1zM739 282h2v1h-2zM741 283h3v1h-3zM744 284h4v1h-4zM748 285h5v1h-5zM753 286h3v1h-3zM756 287h3v1h-3zM759 288h2v1h-2zM761 289h2v1h-2zM763 290h3v1h-3zM766 291h2v1h-2zM768 292h3v1h-3zM771 293h8v1h-8zM779 292h7v1h-7zM786 291h3v1h-3zM789 290h4v1h-4zM793 289h3v1h-3zM796 288h4v1h-4zM800 287h8v1h-8zM808 286h8v1h-8zM816 287h6v1h-6zM822 288h4v1h-4zM826 289h3v1h-3zM829 290h1v1h-1zM830 291h1v1h-1zM831 292h1v1h-1zM832 293h1v2h-1zM833 295h1v1h-1zM834 296h1v1h-1zM835 297h1v2h-1zM836 299h1v3h-1zM837 302h1v2h-1zM838 304h1v2h-1zM839 306h1v3h-1zM840 309h1v3h-1zM841 312h1v3h-1zM842 315h1v2h-1zM843 317h1v3h-1zM844 320h1v3h-1zM845 323h1v3h-1zM846 326h1v3h-1zM847 329h1v4h-1zM848 333h1v3h-1zM849 336h1v4h-1zM850 340h1v2h-1zM851 342h1v1h-1zM852 343h1v2h-1zM853 345h1v2h-1zM854 347h1v1h-1zM855 348h1v2h-1zM856 350h1v3h-1zM857 353h1v2h-1zM858 355h1v2h-1zM859 357h1v3h-1zM860 360h1v2h-1zM861 362h1v2h-1zM862 364h1v2h-1zM863 366h1v3h-1zM864 369h1v2h-1zM865 371h1v2h-1zM866 373h1v2h-1zM867 375h1v1h-1zM868 376h1v1h-1zM869 377h1v1h-1zM870 378h1v1h-1zM871 379h1v1h-1zM872 380h1v1h-1zM873 381h1v2h-1zM874 383h1v1h-1zM875 384h1v1h-1zM876 385h1v1h-1zM877 386h1v2h-1zM878 388h1v2h-1zM879 390h1v1h-1zM880 391h1v2h-1zM881 393h1v2h-1zM882 395h1v2h-1zM883 397h1v2h-1zM884 399h1v3h-1zM885 402h1v2h-1zM886 404h1v3h-1zM887 407h1v2h-1zM888 409h1v3h-1zM889 412h1v2h-1zM890 414h1v2h-1zM891 416h1v3h-1zM892 419h1v2h-1zM893 421h1v3h-1zM894 424h1v2h-1zM895 426h1v2h-1zM896 428h1v3h-1zM897 431h1v3h-1zM898 434h1v3h-1zM899 437h1v3h-1zM900 440h1v3h-1zM901 443h1v3h-1zM902 446h1v3h-1zM903 449h1v3h-1zM904 452h1v3h-1zM905 455h1v3h-1zM906 458h1v4h-1zM907 462h1v3h-1zM908 465h1v4h-1zM909 469h1v3h-1zM910 472h1v2h-1zM911 474h1v3h-1zM912 477h1v3h-1zM913 480h1v2h-1zM914 482h1v2h-1zM915 484h1v2h-1zM916 486h1v2h-1zM917 488h1v2h-1zM918 490h1v2h-1zM919 492h1v3h-1zM920 495h1v3h-1zM921 498h1v3h-1zM922 501h1v3h-1zM923 504h1v3h-1zM924 507h1v2h-1zM925 509h1v3h-1zM926 512h1v2h-1zM927 514h1v3h-1zM928 517h1v2h-1zM929 519h1v3h-1zM930 522h1v3h-1zM931 525h1v3h-1zM932 528h1v3h-1zM933 531h1v4h-1zM934 535h1v3h-1zM935 538h1v4h-1zM936 542h1v3h-1zM937 545h1v4h-1zM938 549h1v3h-1zM939 552h1v3h-1zM940 555h1v3h-1zM941 558h1v3h-1zM942 561h1v3h-1zM943 564h1v3h-1zM944 567h1v3h-1zM945 570h1v3h-1zM946 573h1v4h-1zM947 577h1v3h-1zM948 580h1v4h-1zM949 584h1v4h-1zM950 588h1v4h-1zM951 592h1v3h-1zM952 595h1v4h-1zM953 599h1v3h-1zM954 602h1v2h-1zM955 604h1v3h-1zM956 607h1v2h-1zM957 609h1v3h-1zM958 612h1v3h-1zM959 615h1v2h-1zM960 617h1v2h-1zM961 619h1v2h-1zM962 621h1v2h-1zM963 623h1v1h-1zM964 624h1v2h-1zM965 626h1v2h-1zM966 628h1v2h-1zM967 630h1v2h-1zM968 632h1v1h-1zM969 633h1v1h-1zM970 634h1v2h-1zM971 636h1v1h-1zM972 637h1v1h-1zM973 638h1v1h-1zM974 639h1v1h-1zM975 640h1v1h-1zM976 641h1v1h-1zM977 642h1v1h-1zM978 643h1v1h-1zM979 644h1v1h-1zM980 645h1v1h-1zM981 646h2v1h-2zM983 647h2v1h-2zM985 648h2v1h-2zM987 649h5v1h-5zM992 650h4v1h-4zM996 651h1v1h-1zM997 652h1v1h-1zM998 653h2v1h-2zM1000 654h1v1h-1zM1001 655h1v1h-1zM1002 656h1v1h-1zM1003 657h1v1h-1zM1004 658h1v1h-1zM1005 659h1v1h-1zM1006 660h1v1h-1zM1007 661h1v1h-1zM1008 662h1v1h-1zM1009 663h2v1h-2zM1011 664h1v1h-1zM1012 665h1v1h-1zM1013 666h1v1h-1zM1014 667h1v2h-1zM1015 669h1v1h-1zM1016 670h1v1h-1zM1017 671h2v1h-2zM1019 672h1v1h-1zM1020 673h2v1h-2zM1022 674h1v1h-1zM1023 675h4v1h-4zM1027 674h2v1h-2zM1029 673h3v1h-3zM1032 672h2v1h-2zM1034 671h2v1h-2zM1036 670h1v1h-1zM1037 669h1v1h-1zM1038 668h1v1h-1zM1039 667h1v1h-1zM1040 666h2v1h-2zM1042 665h1v1h-1zM1043 664h1v1h-1zM1044 663h1v1h-1zM1045 662h1v1h-1zM1046 661h1v1h-1zM1047 660h1v1h-1zM1048 659h1v1h-1zM1049 658h1v1h-1zM1050 657h1v1h-1zM1051 655h1v2h-1zM1052 654h1v1h-1zM1053 653h1v1h-1zM1054 651h1v2h-1zM1055 650h1v1h-1zM1056 649h1v1h-1zM1057 648h1v1h-1zM1058 647h1v1h-1zM1059 646h1v1h-1zM1060 645h1v1h-1zM1061 644h2v1h-2zM1063 643h2v1h-2zM1065 642h2v1h-2zM1067 641h1v1h-1zM1068 640h1v1h-1zM1069 639h1v1h-1zM1070 638h1v1h-1zM1071 636h1v2h-1zM1072 635h1v1h-1zM1073 634h1v1h-1zM1074 633h1v1h-1zM1075 632h1v1h-1zM1076 631h1v1h-1zM1077 630h1v1h-1zM1078 629h1v1h-1zM1079 627h1v2h-1zM1080 626h1v1h-1zM1081 625h1v1h-1zM1082 624h1v1h-1zM1083 623h2v1h-2zM1085 624h3v1h-3zM1088 625h2v1h-2zM1090 626h5v1h-5zM1095 627h6v1h-6zM1101 628h2v1h-2zM1103 629h2v1h-2zM1105 630h2v1h-2zM1107 631h2v1h-2zM1109 632h1v1h-1zM1110 633h2v1h-2zM1112 634h2v1h-2zM1114 635h4v1h-4zM1118 636h4v1h-4zM1122 637h2v1h-2zM1124 638h1v1h-1zM1125 639h2v1h-2zM1127 640h1v1h-1zM1128 641h1v1h-1zM1129 642h1v1h-1zM1130 643h1v1h-1zM1131 644h1v1h-1zM1132 645h1v1h-1zM1133 646h1v1h-1zM1134 647h1v1h-1zM1135 648h1v1h-1zM1136 649h1v1h-1zM1137 650h1v1h-1zM1138 651h1v1h-1zM1139 652h1v1h-1zM1140 653h2v1h-2zM1142 654h1v1h-1zM1143 655h1v1h-1zM1144 656h1v1h-1zM1145 657h2v1h-2zM1147 658h1v1h-1zM1148 659h1v1h-1zM1149 660h1v1h-1zM1150 661h1v1h-1zM1151 662h1v1h-1zM1152 663h1v1h-1zM1153 664h1v1h-1zM1154 665h1v1h-1zM1155 666h8v1h-8zM1163 665h1v1h-1zM1164 664h1v1h-1zM1165 663h1v1h-1zM1166 662h1v1h-1zM1167 661h1v1h-1zM1168 660h1v1h-1zM1169 659h1v1h-1zM1170 657h1v2h-1zM1171 655h1v2h-1zM1172 653h1v2h-1zM1173 651h1v2h-1zM1174 649h1v2h-1zM1175 648h1v1h-1zM1176 646h1v2h-1zM1177 644h1v2h-1zM1178 642h1v2h-1zM1179 641h1v1h-1zM1180 640h2v1h-2zM1182 639h5v1h-5zM1187 638h1v2h-1zM1188 636h1v2h-1zM1189 634h1v2h-1zM1190 632h1v2h-1zM1191 630h1v2h-1zM1192 628h1v2h-1zM1193 626h1v2h-1zM1194 625h1v1h-1zM1195 623h1v2h-1zM1196 621h1v2h-1zM1197 619h1v2h-1zM1198 618h1v1h-1zM1199 616h1v2h-1zM1200 614h1v2h-1zM1201 612h1v2h-1zM1202 611h1v1h-1zM1203 610h1v1h-1zM1204 608h1v2h-1zM1205 607h1v1h-1zM1206 606h1v1h-1zM1207 605h1v1h-1zM1208 604h1v1h-1zM1209 602h1v2h-1zM1210 601h1v1h-1zM1211 599h1v2h-1zM1212 597h1v2h-1zM1213 595h1v2h-1zM1214 593h1v2h-1zM1215 590h1v3h-1zM1216 588h1v2h-1zM1217 586h1v2h-1zM1218 584h1v2h-1zM1219 582h1v2h-1z" fill="#87cefa" shape-rendering="crispEdges"/>
<path d="M3 134h8v1h-8zM11 135h9v1h-9zM20 136h10v1h-10zM30 137h10v1h-10zM40 138h9v1h-9zM49 139h26v1h-26zM75 140h70v1h-70zM145 141h55v1h-55zM200 140h16v1h-16zM216 139h11v1h-11zM227 138h16v1h-16zM243 137h16v1h-16zM259 136h16v1h-16zM275 135h18v1h-18zM293 134h16v1h-16zM309 133h16v1h-16zM325 132h15v1h-15zM340 131h9v1h-9zM349 130h10v1h-10zM359 129h9v1h-9zM368 128h11v1h-11zM379 127h15v1h-15zM394 126h22v1h-22zM416 125h27v1h-27zM443 124h37v1h-37zM480 125h10v1h-10zM490 126h13v1h-13zM503 127h34v1h-34zM537 128h11v1h-11zM548 127h64v1h-64zM612 128h23v1h-23zM635 129h20v1h-20zM655 130h19v1h-19zM674 131h12v1h-12zM686 132h8v1h-8zM694 133h8v1h-8zM702 134h8v1h-8zM710 135h7v1h-7zM717 136h7v1h-7zM724 137h7v1h-7zM731 138h7v1h-7zM738 139h7v1h-7zM745 140h7v1h-7zM752 141h6v1h-6zM758 142h7v1h-7zM765 143h8v1h-8zM773 144h11v1h-11zM784 145h11v1h-11zM795 146h9v1h-9zM804 147h7v1h-7zM811 148h8v1h-8zM819 149h7v1h-7zM826 150h4v1h-4zM830 151h4v1h-4zM834 152h4v1h-4zM838 153h5v1h-5zM843 154h4v1h-4zM847 155h4v1h-4zM851 156h4v1h-4zM855 157h4v1h-4zM859 158h4v1h-4zM863 159h4v1h-4zM867 160h4v1h-4zM871 161h4v1h-4zM875 162h4v1h-4zM879 163h4v1h-4zM883 164h3v1h-3zM886 165h4v1h-4zM890 166h2v1h-2zM892 167h3v1h-3zM895 168h3v1h-3zM898 169h2v1h-2zM900 170h3v1h-3zM903 171h3v1h-3zM906 172h2v1h-2zM908 173h3v1h-3zM911 174h2v1h-2zM913 175h3v1h-3zM916 176h3v1h-3zM919 177h2v1h-2zM921 178h2v1h-2zM923 179h3v1h-3zM926 180h2v1h-2zM928 181h3v1h-3zM931 182h2v1h-2zM933 183h2v1h-2zM935 184h3v1h-3zM938 185h2v1h-2zM940 186h2v1h-2zM942 187h3v1h-3zM945 188h2v1h-2zM947 189h2v1h-2zM949 190h2v1h-2zM951 191h2v1h-2zM953 192h2v1h-2zM955 193h2v1h-2zM957 194h2v1h-2zM959 195h2v1h-2zM961 196h2v1h-2zM963 197h2v1h-2zM965 198h2v1h-2zM967 199h3v1h-3zM970 200h2v1h-2zM972 201h2v1h-2zM974 202h2v1h-2zM976 203h2v1h-2zM978 204h2v1h-2zM980 205h3v1h-3zM983 206h2v1h-2zM985 207h2v1h-2zM987 208h2v1h-2zM989 209h2v1h-2zM991 210h3v1h-3zM994 211h2v1h-2zM996 212h3v1h-3zM999 213h2v1h-2zM1001 214h2v1h-2zM1003 215h3v1h-3zM1006 216h2v1h-2zM1008 217h2v1h-2zM1010 218h3v1h-3zM1013 219h2v1h-2zM1015 220h2v1h-2zM1017 221h2v1h-2zM1019 222h2v1h-2zM1021 223h2v1h-2zM1023 224h2v1h-2zM1025 225h2v1h-2zM1027 226h2v1h-2zM1029 227h2v1h-2zM1031 228h2v1h-2zM1033 229h2v1h-2zM1035 230h3v1h-3zM1038 231h2v1h-2zM1040 232h2v1h-2zM1042 233h3v1h-3zM1045 234h2v1h-2zM1047 235h2v1h-2zM1049 236h3v1h-3zM1052 237h2v1h-2zM1054 238h2v1h-2zM1056 239h3v1h-3zM1059 240h2v1h-2zM1061 241h2v1h-2zM1063 242h3v1h-3zM1066 243h3v1h-3zM1069 244h3v1h-3zM1072 245h3v1h-3zM1075 246h3v1h-3zM1078 247h3v1h-3zM1081 248h3v1h-3zM1084 249h3v1h-3zM1087 250h4v1h-4zM1091 251h3v1h-3zM1094 252h2v1h-2zM1096 253h2v1h-2zM1098 254h3v1h-3zM1101 255h4v1h-4zM1105 256h4v1h-4zM1109 257h4v1h-4zM1113 258h4v1h-4zM1117 259h4v1h-4zM1121 260h5v1h-5zM1126 261h6v1h-6zM1132 262h6v1h-6zM1138 263h6v1h-6zM1144 264h5v1h-5zM1149 265h6v1h-6zM1155 266h5v1h-5zM1160 267h6v1h-6zM1166 268h6v1h-6zM1172 269h7v1h-7zM1179 270h10v1h-10zM1189 271h15v1h-15zM1204 272h15v1h-15z" fill="#000" shape-rendering="crispEdges"/>
<path d="M3 145h4v1h-4zM7 146h6v1h-6zM13 147h6v1h-6zM19 148h6v1h-6zM25 149h7v1h-7zM32 150h7v1h-7zM39 151h7v1h-7zM46 152h10v1h-10zM56 153h24v1h-24zM80 154h40v1h-40zM120 153h60v1h-60zM180 152h13v1h-13zM193 151h13v1h-13zM206 150h11v1h-11zM217 149h11v1h-11zM228 148h11v1h-11zM239 147h5v1h-5zM244 146h5v1h-5zM249 145h5v1h-5zM254 144h5v1h-5zM259 143h4v1h-4zM263 142h5v1h-5zM268 141h5v1h-5zM273 140h4v1h-4zM277 139h6v1h-6zM283 138h8v1h-8zM291 137h7v1h-7zM298 136h9v1h-9zM307 135h8v1h-8zM315 134h8v1h-8zM323 133h6v1h-6zM329 132h5v1h-5zM334 131h5v1h-5zM339 130h6v1h-6zM345 129h6v1h-6zM351 128h6v1h-6zM357 127h6v1h-6zM363 126h5v1h-5zM368 125h6v1h-6zM374 124h6v1h-6zM380 123h8v1h-8zM388 122h12v1h-12zM400 121h14v1h-14zM414 120h15v1h-15zM429 119h9v1h-9zM438 118h8v1h-8zM446 117h18v1h-18zM464 118h10v1h-10zM474 119h5v1h-5zM479 120h5v1h-5zM484 121h5v1h-5zM489 122h8v1h-8zM497 123h8v1h-8zM505 124h10v1h-10zM515 125h12v1h-12zM527 126h13v1h-13zM540 125h50v1h-50zM590 126h16v1h-16zM606 127h11v1h-11zM617 128h11v1h-11zM628 129h11v1h-11zM639 130h9v1h-9zM648 131h8v1h-8zM656 132h9v1h-9zM665 133h7v1h-7zM672 134h6v1h-6zM678 135h5v1h-5zM683 136h5v1h-5zM688 137h5v1h-5zM693 138h5v1h-5zM698 139h5v1h-5zM703 140h4v1h-4zM707 141h5v1h-5zM712 142h5v1h-5zM717 143h4v1h-4zM721 144h4v1h-4zM725 145h5v1h-5zM730 146h4v1h-4zM734 147h4v1h-4zM738 148h4v1h-4zM742 149h4v1h-4zM746 150h4v1h-4zM750 151h5v1h-5zM755 152h4v1h-4zM759 153h5v1h-5zM764 154h4v1h-4zM768 155h4v1h-4zM772 156h5v1h-5zM777 157h5v1h-5zM782 158h5v1h-5zM787 159h5v1h-5zM792 160h5v1h-5zM797 161h6v1h-6zM803 162h7v1h-7zM810 163h7v1h-7zM817 164h5v1h-5zM822 165h2v1h-2zM824 166h3v1h-3zM827 167h3v1h-3zM830 168h3v1h-3zM833 169h3v1h-3zM836 170h2v1h-2zM838 171h3v1h-3zM841 172h2v1h-2zM843 173h2v1h-2zM845 174h2v1h-2zM847 175h2v1h-2zM849 176h2v1h-2zM851 177h2v1h-2zM853 178h2v1h-2zM855 179h3v1h-3zM858 180h2v1h-2zM860 181h2v1h-2zM862 182h3v1h-3zM865 183h2v1h-2zM867 184h2v1h-2zM869 185h3v1h-3zM872 186h2v1h-2zM874 187h2v1h-2zM876 188h2v1h-2zM878 189h2v1h-2zM880 190h2v1h-2zM882 191h2v1h-2zM884 192h2v1h-2zM886 193h2v1h-2zM888 194h2v1h-2zM890 195h2v1h-2zM892 196h2v1h-2zM894 197h2v1h-2zM896 198h1v1h-1zM897 199h2v1h-2zM899 200h2v1h-2zM901 201h1v1h-1zM902 202h2v1h-2zM904 203h2v1h-2zM906 204h1v1h-1zM907 205h2v1h-2zM909 206h2v1h-2zM911 207h1v1h-1zM912 208h2v1h-2zM914 209h1v1h-1zM915 210h2v1h-2zM917 211h1v1h-1zM918 212h2v1h-2zM920 213h1v1h-1zM921 214h2v1h-2zM923 215h1v1h-1zM924 216h2v1h-2zM926 217h1v1h-1zM927 218h1v1h-1zM928 219h1v1h-1zM929 220h1v1h-1zM930 221h2v1h-2zM932 222h1v1h-1zM933 223h1v1h-1zM934 224h1v1h-1zM935 225h1v1h-1zM936 226h1v1h-1zM937 227h1v1h-1zM938 228h1v1h-1zM939 229h1v1h-1zM940 230h1v1h-1zM941 231h2v1h-2zM943 232h1v1h-1zM944 233h1v1h-1zM945 234h1v1h-1zM946 235h1v1h-1zM947 236h1v1h-1zM948 237h1v1h-1zM949 238h2v1h-2zM951 239h1v1h-1zM952 240h2v1h-2zM954 241h2v1h-2zM956 242h1v1h-1zM957 243h2v1h-2zM959 244h1v1h-1zM960 245h2v1h-2zM962 246h1v1h-1zM963 247h2v1h-2zM965 248h1v1h-1zM966 249h1v1h-1zM967 250h1v1h-1zM968 251h1v1h-1zM969 252h2v1h-2zM971 253h1v1h-1zM972 254h1v1h-1zM973 255h1v1h-1zM974 256h1v1h-1zM975 257h1v1h-1zM976 258h2v1h-2zM978 259h1v1h-1zM979 260h1v1h-1zM980 261h1v1h-1zM981 262h1v1h-1zM982 263h1v1h-1zM983 264h2v1h-2zM985 265h1v1h-1zM986 266h1v1h-1zM987 267h1v1h-1zM988 268h2v1h-2zM990 269h1v1h-1zM991 270h1v1h-1zM992 271h2v1h-2zM994 272h1v1h-1zM995 273h1v1h-1zM996 274h2v1h-2zM998 275h1v1h-1zM999 276h1v1h-1zM1000 277h2v1h-2zM1002 278h1v1h-1zM1003 279h1v1h-1zM1004 280h2v1h-2zM1006 281h1v1h-1zM1007 282h1v1h-1zM1008 283h2v1h-2zM1010 284h1v1h-1zM1011 285h1v1h-1zM1012 286h2v1h-2zM1014 287h1v1h-1zM1015 288h2v1h-2zM1017 289h1v1h-1zM1018 290h2v1h-2zM1020 291h1v1h-1zM1021 292h1v1h-1zM1022 293h2v1h-2zM1024 294h1v1h-1zM1025 295h2v1h-2zM1027 296h1v1h-1zM1028 297h2v1h-2zM1030 298h1v1h-1zM1031 299h1v1h-1zM1032 300h2v1h-2zM1034 301h1v1h-1zM1035 302h2v1h-2zM1037 303h1v1h-1zM1038 304h2v1h-2zM1040 305h1v1h-1zM1041 306h1v1h-1zM1042 307h2v1h-2zM1044 308h1v1h-1zM1045 309h2v1h-2zM1047 310h1v1h-1zM1048 311h2v1h-2zM1050 312h1v1h-1zM1051 313h1v1h-1zM1052 314h2v1h-2zM1054 315h1v1h-1zM1055 316h2v1h-2zM1057 317h1v1h-1zM1058 318h2v1h-2zM1060 319h2v1h-2zM1062 320h1v1h-1zM1063 321h2v1h-2zM1065 322h2v1h-2zM1067 323h1v1h-1zM1068 324h2v1h-2zM1070 325h2v1h-2zM1072 326h2v1h-2zM1074 327h1v1h-1zM1075 328h2v1h-2zM1077 329h2v1h-2zM1079 330h1v1h-1zM1080 331h3v1h-3zM1083 332h2v1h-2zM1085 333h3v1h-3zM1088 334h3v1h-3zM1091 335h3v1h-3zM1094 336h3v1h-3zM1097 337h2v1h-2zM1099 338h3v1h-3zM1102 339h3v1h-3zM1105 340h2v1h-2zM1107 341h3v1h-3zM1110 342h2v1h-2zM1112 343h3v1h-3zM1115 344h3v1h-3zM1118 345h3v1h-3zM1121 346h3v1h-3zM1124 347h7v1h-7zM1131 348h7v1h-7zM1138 349h6v1h-6zM1144 350h5v1h-5zM1149 351h8v1h-8zM1157 352h8v1h-8zM1165 353h12v1h-12zM1177 354h9v1h-9zM1186 353h15v1h-15zM1201 352h15v1h-15zM1216 351h3v1h-3z" fill="#00ff00" shape-rendering="crispEdges"/>
<path d="M3 169h4v1h-4zM7 170h6v1h-6zM13 171h5v1h-5zM18 172h5v1h-5zM23 173h6v1h-6zM29 174h5v1h-5zM34 175h8v1h-8zM42 176h9v1h-9zM51 177h8v1h-8zM59 178h9v1h-9zM68 177h26v1h-26zM94 176h12v1h-12zM106 175h10v1h-10zM116 174h6v1h-6zM122 173h6v1h-6zM128 172h6v1h-6zM134 171h6v1h-6zM140 170h6v1h-6zM146 169h5v1h-5zM151 168h8v1h-8zM159 167h9v1h-9zM168 166h10v1h-10zM178 165h7v1h-7zM185 164h7v1h-7zM192 163h7v1h-7zM199 162h4v1h-4zM203 161h4v1h-4zM207 160h4v1h-4zM211 159h4v1h-4zM215 158h4v1h-4zM219 157h4v1h-4zM223 156h4v1h-4zM227 155h3v1h-3zM230 154h4v1h-4zM234 153h3v1h-3zM237 152h4v1h-4zM241 151h2v1h-2zM243 150h3v1h-3zM246 149h2v1h-2zM248 148h3v1h-3zM251 147h2v1h-2zM253 146h3v1h-3zM256 145h2v1h-2zM258 144h3v1h-3zM261 143h2v1h-2zM263 142h3v1h-3zM266 141h2v1h-2zM268 140h3v1h-3zM271 139h3v1h-3zM274 138h4v1h-4zM278 137h4v1h-4zM282 136h4v1h-4zM286 135h4v1h-4zM290 134h4v1h-4zM294 133h4v1h-4zM298 132h4v1h-4zM302 131h4v1h-4zM306 130h4v1h-4zM310 129h4v1h-4zM314 128h4v1h-4zM318 127h4v1h-4zM322 126h4v1h-4zM326 125h4v1h-4zM330 124h3v1h-3zM333 123h3v1h-3zM336 122h4v1h-4zM340 121h3v1h-3zM343 120h3v1h-3zM346 119h4v1h-4zM350 118h2v1h-2zM352 117h3v1h-3zM355 116h3v1h-3zM358 115h2v1h-2zM360 114h3v1h-3zM363 113h2v1h-2zM365 112h3v1h-3zM368 111h3v1h-3zM371 110h4v1h-4zM375 109h5v1h-5zM380 108h4v1h-4zM384 107h16v1h-16zM400 106h17v1h-17zM417 105h12v1h-12zM429 104h34v1h-34zM463 105h8v1h-8zM471 106h3v1h-3zM474 107h4v1h-4zM478 108h4v1h-4zM482 109h3v1h-3zM485 110h2v1h-2zM487 111h3v1h-3zM490 112h2v1h-2zM492 113h3v1h-3zM495 114h3v1h-3zM498 115h3v1h-3zM501 116h4v1h-4zM505 117h3v1h-3zM508 118h3v1h-3zM511 119h5v1h-5zM516 120h4v1h-4zM520 121h4v1h-4zM524 122h7v1h-7zM531 123h8v1h-8zM539 124h11v1h-11zM550 123h35v1h-35zM585 124h7v1h-7zM592 125h8v1h-8zM600 126h6v1h-6zM606 127h7v1h-7zM613 128h6v1h-6zM619 129h7v1h-7zM626 130h6v1h-6zM632 131h5v1h-5zM637 132h5v1h-5zM642 133h5v1h-5zM647 134h6v1h-6zM653 135h5v1h-5zM658 136h4v1h-4zM662 137h3v1h-3zM665 138h4v1h-4zM669 139h3v1h-3zM672 140h4v1h-4zM676 141h3v1h-3zM679 142h4v1h-4zM683 143h3v1h-3zM686 144h3v1h-3zM689 145h3v1h-3zM692 146h3v1h-3zM695 147h2v1h-2zM697 148h3v1h-3zM700 149h3v1h-3zM703 150h3v1h-3zM706 151h3v1h-3zM709 152h2v1h-2zM711 153h2v1h-2zM713 154h2v1h-2zM715 155h1v1h-1zM716 156h2v1h-2zM718 157h2v1h-2zM720 158h2v1h-2zM722 159h1v1h-1zM723 160h2v1h-2zM725 161h2v1h-2zM727 162h2v1h-2zM729 163h2v1h-2zM731 164h2v1h-2zM733 165h3v1h-3zM736 166h3v1h-3zM739 167h3v1h-3zM742 168h2v1h-2zM744 169h3v1h-3zM747 170h3v1h-3zM750 171h3v1h-3zM753 172h4v1h-4zM757 173h3v1h-3zM760 174h4v1h-4zM764 175h3v1h-3zM767 176h3v1h-3zM770 177h4v1h-4zM774 178h3v1h-3zM777 179h4v1h-4zM781 180h3v1h-3zM784 181h4v1h-4zM788 182h5v1h-5zM793 183h8v1h-8zM801 184h7v1h-7zM808 185h6v1h-6zM814 186h3v1h-3zM817 187h2v1h-2zM819 188h2v1h-2zM821 189h2v1h-2zM823 190h2v1h-2zM825 191h2v1h-2zM827 192h2v1h-2zM829 193h2v1h-2zM831 194h1v1h-1zM832 195h2v1h-2zM834 196h1v1h-1zM835 197h2v1h-2zM837 198h1v1h-1zM838 199h1v1h-1zM839 200h2v1h-2zM841 201h1v1h-1zM842 202h1v1h-1zM843 203h1v1h-1zM844 204h2v1h-2zM846 205h1v1h-1zM847 206h1v1h-1zM848 207h1v1h-1zM849 208h2v1h-2zM851 209h1v1h-1zM852 210h1v1h-1zM853 211h1v1h-1zM854 212h2v1h-2zM856 213h1v1h-1zM857 214h1v1h-1zM858 215h2v1h-2zM860 216h1v1h-1zM861 217h1v1h-1zM862 218h1v1h-1zM863 219h2v1h-2zM865 220h1v1h-1zM866 221h2v1h-2zM868 222h1v1h-1zM869 223h2v1h-2zM871 224h1v1h-1zM872 225h2v1h-2zM874 226h1v1h-1zM875 227h2v1h-2zM877 228h1v1h-1zM878 229h1v1h-1zM879 230h2v1h-2zM881 231h1v1h-1zM882 232h2v1h-2zM884 233h1v1h-1zM885 234h1v1h-1zM886 235h2v1h-2zM888 236h1v1h-1zM889 237h1v1h-1zM890 238h1v1h-1zM891 239h1v1h-1zM892 240h1v1h-1zM893 241h1v1h-1zM894 242h1v1h-1zM895 243h2v1h-2zM897 244h1v1h-1zM898 245h1v1h-1zM899 246h1v1h-1zM900 247h1v1h-1zM901 248h1v1h-1zM902 249h1v1h-1zM903 250h1v1h-1zM904 251h1v1h-1zM905 252h1v1h-1zM906 253h1v1h-1zM907 254h1v1h-1zM908 255h1v1h-1zM909 256h1v1h-1zM910 257h1v1h-1zM911 258h1v1h-1zM912 259h1v1h-1zM913 260h1v1h-1zM914 261h1v1h-1zM915 262h1v1h-1zM916 263h1v1h-1zM917 264h1v1h-1zM918 265h1v1h-1zM919 266h1v1h-1zM920 267h1v1h-1zM921 268h1v1h-1zM922 269h1v1h-1zM923 270h1v1h-1zM924 271h1v1h-1zM925 272h1v1h-1zM926 273h1v2h-1zM927 275h1v1h-1zM928 276h1v2h-1zM929 278h1v1h-1zM930 279h1v2h-1zM931 281h1v1h-1zM932 282h1v2h-1zM933 284h1v1h-1zM934 285h1v2h-1zM935 287h1v1h-1zM936 288h1v2h-1zM937 290h1v1h-1zM938 291h1v1h-1zM939 292h1v2h-1zM940 294h1v1h-1zM941 295h1v1h-1zM942 296h1v2h-1zM943 298h1v1h-1zM944 299h1v1h-1zM945 300h1v1h-1zM946 301h1v2h-1zM947 303h1v1h-1zM948 304h1v1h-1zM949 305h1v1h-1zM950 306h1v2h-1zM951 308h1v1h-1zM952 309h1v2h-1zM953 311h1v1h-1zM954 312h1v1h-1zM955 313h1v2h-1zM956 315h1v1h-1zM957 316h1v1h-1zM958 317h1v2h-1zM959 319h1v1h-1zM960 320h1v2h-1zM961 322h1v1h-1zM962 323h1v1h-1zM963 324h1v1h-1zM964 325h1v1h-1zM965 326h1v1h-1zM966 327h1v2h-1zM967 329h1v1h-1zM968 330h1v1h-1zM969 331h1v1h-1zM970 332h1v1h-1zM971 333h1v1h-1zM972 334h1v1h-1zM973 335h1v2h-1zM974 337h1v1h-1zM975 338h1v1h-1zM976 339h1v1h-1zM977 340h1v1h-1zM978 341h1v1h-1zM979 342h1v1h-1zM980 343h1v2h-1zM981 345h1v1h-1zM982 346h1v1h-1zM983 347h1v1h-1zM984 348h1v1h-1zM985 349h1v1h-1zM986 350h1v2h-1zM987 352h1v1h-1zM988 353h1v1h-1zM989 354h1v1h-1zM990 355h1v1h-1zM991 356h1v1h-1zM992 357h1v1h-1zM993 358h1v2h-1zM994 360h1v1h-1zM995 361h1v1h-1zM996 362h1v1h-1zM997 363h1v1h-1zM998 364h1v1h-1zM999 365h1v1h-1zM1000 366h1v2h-1zM1001 368h1v1h-1zM1002 369h1v1h-1zM1003 370h1v1h-1zM1004 371h1v1h-1zM1005 372h1v1h-1zM1006 373h1v2h-1zM1007 375h1v1h-1zM1008 376h1v1h-1zM1009 377h1v1h-1zM1010 378h1v1h-1zM1011 379h1v1h-1zM1012 380h1v1h-1zM1013 381h1v1h-1zM1014 382h1v1h-1zM1015 383h2v1h-2zM1017 384h1v1h-1zM1018 385h1v1h-1zM1019 386h1v1h-1zM1020 387h1v1h-1zM1021 388h1v1h-1zM1022 389h1v1h-1zM1023 390h1v1h-1zM1024 391h1v1h-1zM1025 392h1v1h-1zM1026 393h1v1h-1zM1027 394h1v1h-1zM1028 395h2v1h-2zM1030 396h1v1h-1zM1031 397h1v1h-1zM1032 398h1v1h-1zM1033 399h1v1h-1zM1034 400h1v1h-1zM1035 401h1v1h-1zM1036 402h1v1h-1zM1037 403h1v1h-1zM1038 404h1v1h-1zM1039 405h1v1h-1zM1040 406h1v1h-1zM1041 407h2v1h-2zM1043 408h1v1h-1zM1044 409h1v1h-1zM1045 410h2v1h-2zM1047 411h1v1h-1zM1048 412h2v1h-2zM1050 413h1v1h-1zM1051 414h1v1h-1zM1052 415h2v1h-2zM1054 416h1v1h-1zM1055 417h2v1h-2zM1057 418h1v1h-1zM1058 419h1v1h-1zM1059 420h2v1h-2zM1061 421h1v1h-1zM1062 422h2v1h-2zM1064 423h1v1h-1zM1065 424h2v1h-2zM1067 425h1v1h-1zM1068 426h2v1h-2zM1070 427h1v1h-1zM1071 428h2v1h-2zM1073 429h2v1h-2zM1075 430h1v1h-1zM1076 431h2v1h-2zM1078 432h1v1h-1zM1079 433h2v1h-2zM1081 434h3v1h-3zM1084 435h3v1h-3zM1087 436h2v1h-2zM1089 437h3v1h-3zM1092 438h3v1h-3zM1095 439h3v1h-3zM1098 440h4v1h-4zM1102 441h3v1h-3zM1105 442h3v1h-3zM1108 443h9v1h-9zM1117 444h7v1h-7zM1124 443h6v1h-6zM1130 442h5v1h-5zM1135 441h6v1h-6zM1141 440h6v1h-6zM1147 439h4v1h-4zM1151 438h3v1h-3zM1154 437h2v1h-2zM1156 436h3v1h-3zM1159 435h6v1h-6zM1165 434h10v1h-10zM1175 433h4v1h-4zM1179 432h3v1h-3zM1182 431h2v1h-2zM1184 430h2v1h-2zM1186 429h3v1h-3zM1189 428h2v1h-2zM1191 427h2v1h-2zM1193 426h2v1h-2zM1195 425h2v1h-2zM1197 424h2v1h-2zM1199 423h2v1h-2zM1201 422h2v1h-2zM1203 421h2v1h-2zM1205 420h2v1h-2zM1207 419h2v1h-2zM1209 418h2v1h-2zM1211 417h2v1h-2zM1213 416h2v1h-2zM1215 415h2v1h-2zM1217 414h2v1h-2z" fill="#ff0000" shape-rendering="crispEdges"/>
<path d="M3 173h1v1h-1zM4 174h3v1h-3zM7 175h4v1h-4zM11 176h3v1h-3zM14 177h4v1h-4zM18 178h3v1h-3zM21 179h2v1h-2zM23 180h2v1h-2zM25 181h2v1h-2zM27 182h1v1h-1zM28 183h2v1h-2zM30 184h2v1h-2zM32 185h2v1h-2zM34 186h2v1h-2zM36 187h2v1h-2zM38 188h3v1h-3zM41 189h6v1h-6zM47 190h13v1h-13zM60 189h8v1h-8zM68 188h7v1h-7zM75 187h6v1h-6zM81 186h4v1h-4zM85 185h5v1h-5zM90 184h4v1h-4zM94 183h3v1h-3zM97 182h3v1h-3zM100 181h2v1h-2zM102 180h3v1h-3zM105 179h2v1h-2zM107 178h2v1h-2zM109 177h3v1h-3zM112 176h2v1h-2zM114 175h2v1h-2zM116 174h3v1h-3zM119 173h3v1h-3zM122 172h3v1h-3zM125 171h4v1h-4zM129 170h3v1h-3zM132 169h4v1h-4zM136 168h2v1h-2zM138 167h3v1h-3zM141 166h2v1h-2zM143 165h3v1h-3zM146 164h2v1h-2zM148 163h5v1h-5zM153 162h5v1h-5zM158 161h6v1h-6zM164 160h6v1h-6zM170 159h5v1h-5zM175 158h5v1h-5zM180 157h4v1h-4zM184 156h5v1h-5zM189 155h4v1h-4zM193 154h4v1h-4zM197 153h3v1h-3zM200 152h2v1h-2zM202 151h2v1h-2zM204 150h2v1h-2zM206 149h1v1h-1zM207 148h2v1h-2zM209 147h2v1h-2zM211 146h2v1h-2zM213 145h3v1h-3zM216 144h2v1h-2zM218 143h2v1h-2zM220 142h2v1h-2zM222 141h2v1h-2zM224 140h3v1h-3zM227 139h2v1h-2zM229 138h1v1h-1zM230 137h2v1h-2zM232 136h2v1h-2zM234 135h1v1h-1zM235 134h2v1h-2zM237 133h2v1h-2zM239 132h1v1h-1zM240 131h2v1h-2zM242 130h2v1h-2zM244 129h1v1h-1zM245 128h2v1h-2zM247 127h1v1h-1zM248 126h2v1h-2zM250 125h1v1h-1zM251 124h2v1h-2zM253 123h1v1h-1zM254 122h1v1h-1zM255 121h2v1h-2zM257 120h1v1h-1zM258 119h2v1h-2zM260 118h2v1h-2zM262 117h2v1h-2zM264 116h2v1h-2zM266 115h2v1h-2zM268 114h2v1h-2zM270 113h3v1h-3zM273 112h4v1h-4zM277 111h3v1h-3zM280 110h4v1h-4zM284 109h5v1h-5zM289 108h4v1h-4zM293 107h5v1h-5zM298 106h3v1h-3zM301 105h3v1h-3zM304 104h3v1h-3zM307 103h4v1h-4zM311 102h3v1h-3zM314 101h2v1h-2zM316 100h3v1h-3zM319 99h2v1h-2zM321 98h3v1h-3zM324 97h2v1h-2zM326 96h3v1h-3zM329 95h2v1h-2zM331 94h3v1h-3zM334 93h2v1h-2zM336 92h3v1h-3zM339 91h2v1h-2zM341 90h3v1h-3zM344 89h3v1h-3zM347 88h3v1h-3zM350 87h3v1h-3zM353 86h1v1h-1zM354 85h2v1h-2zM356 84h2v1h-2zM358 83h1v1h-1zM359 82h2v1h-2zM361 81h2v1h-2zM363 80h3v1h-3zM366 79h3v1h-3zM369 78h3v1h-3zM372 77h3v1h-3zM375 76h8v1h-8zM383 75h3v1h-3zM386 76h7v1h-7zM393 77h3v1h-3zM396 78h2v1h-2zM398 79h5v1h-5zM403 80h11v1h-11zM414 81h12v1h-12zM426 82h14v1h-14zM440 83h7v1h-7zM447 84h6v1h-6zM453 85h3v1h-3zM456 86h3v1h-3zM459 87h2v1h-2zM461 88h3v1h-3zM464 89h2v1h-2zM466 90h2v1h-2zM468 91h2v1h-2zM470 92h2v1h-2zM472 93h1v1h-1zM473 94h1v1h-1zM474 95h2v1h-2zM476 96h1v1h-1zM477 97h1v1h-1zM478 98h1v1h-1zM479 99h1v1h-1zM480 100h1v1h-1zM481 101h1v1h-1zM482 102h1v1h-1zM483 103h1v2h-1zM484 105h1v1h-1zM485 106h1v1h-1zM486 107h1v1h-1zM487 108h1v1h-1zM488 109h1v1h-1zM489 110h1v1h-1zM490 111h1v1h-1zM491 112h1v1h-1zM492 113h1v2h-1zM493 115h1v1h-1zM494 116h1v1h-1zM495 117h1v1h-1zM496 118h1v1h-1zM497 119h2v1h-2zM499 120h1v1h-1zM500 121h1v1h-1zM501 122h1v1h-1zM502 123h1v1h-1zM503 124h2v1h-2zM505 125h1v1h-1zM506 126h1v1h-1zM507 127h2v1h-2zM509 128h2v1h-2zM511 129h3v1h-3zM514 130h2v1h-2zM516 131h2v1h-2zM518 132h3v1h-3zM521 133h3v1h-3zM524 134h2v1h-2zM526 135h5v1h-5zM531 136h3v1h-3zM534 135h4v1h-4zM538 134h3v1h-3zM541 133h12v1h-12zM553 132h10v1h-10zM563 131h8v1h-8zM571 130h10v1h-10zM581 129h12v1h-12zM593 130h4v1h-4zM597 131h4v1h-4zM601 132h2v1h-2zM603 133h3v1h-3zM606 134h3v1h-3zM609 135h2v1h-2zM611 136h3v1h-3zM614 137h3v1h-3zM617 138h2v1h-2zM619 139h4v1h-4zM623 140h5v1h-5zM628 141h4v1h-4zM632 142h5v1h-5zM637 143h4v1h-4zM641 144h4v1h-4zM645 145h3v1h-3zM648 146h4v1h-4zM652 147h3v1h-3zM655 148h4v1h-4zM659 149h3v1h-3zM662 150h4v1h-4zM666 151h3v1h-3zM669 152h2v1h-2zM671 153h3v1h-3zM674 154h2v1h-2zM676 155h2v1h-2zM678 156h2v1h-2zM680 157h2v1h-2zM682 158h2v1h-2zM684 159h2v1h-2zM686 160h1v1h-1zM687 161h1v1h-1zM688 162h1v1h-1zM689 163h2v1h-2zM691 164h1v1h-1zM692 165h1v1h-1zM693 166h1v1h-1zM694 167h2v1h-2zM696 168h1v1h-1zM697 169h1v1h-1zM698 170h1v1h-1zM699 171h2v1h-2zM701 172h1v1h-1zM702 173h1v1h-1zM703 174h1v1h-1zM704 175h1v1h-1zM705 176h1v1h-1zM706 177h1v1h-1zM707 178h1v1h-1zM708 179h1v1h-1zM709 180h1v1h-1zM710 181h1v1h-1zM711 182h1v1h-1zM712 183h1v1h-1zM713 184h1v1h-1zM714 185h1v1h-1zM715 186h1v1h-1zM716 187h1v1h-1zM717 188h1v1h-1zM718 189h1v1h-1zM719 190h1v1h-1zM720 191h2v1h-2zM722 192h1v1h-1zM723 193h2v1h-2zM725 194h1v1h-1zM726 195h2v1h-2zM728 196h1v1h-1zM729 197h2v1h-2zM731 198h1v1h-1zM732 199h2v1h-2zM734 200h2v1h-2zM736 201h2v1h-2zM738 202h1v1h-1zM739 203h2v1h-2zM741 204h2v1h-2zM743 205h2v1h-2zM745 206h2v1h-2zM747 207h4v1h-4zM751 208h3v1h-3zM754 209h3v1h-3zM757 210h3v1h-3zM760 211h3v1h-3zM763 212h2v1h-2zM765 213h2v1h-2zM767 214h2v1h-2zM769 215h2v1h-2zM771 216h8v1h-8zM779 215h4v1h-4zM783 214h4v1h-4zM787 215h6v1h-6zM793 216h16v1h-16zM809 217h2v1h-2zM811 218h2v1h-2zM813 219h2v1h-2zM815 220h2v1h-2zM817 221h2v1h-2zM819 222h2v1h-2zM821 223h2v1h-2zM823 224h1v1h-1zM824 225h2v1h-2zM826 226h1v1h-1zM827 227h2v1h-2zM829 228h1v1h-1zM830 229h1v1h-1zM831 230h1v1h-1zM832 231h1v1h-1zM833 232h1v1h-1zM834 233h1v1h-1zM835 234h1v1h-1zM836 235h1v1h-1zM837 236h1v1h-1zM838 237h1v2h-1zM839 239h1v1h-1zM840 240h1v1h-1zM841 241h1v1h-1zM842 242h1v2h-1zM843 244h1v1h-1zM844 245h1v1h-1zM845 246h1v2h-1zM846 248h1v1h-1zM847 249h1v2h-1zM848 251h1v1h-1zM849 252h1v1h-1zM850 253h1v2h-1zM851 255h1v1h-1zM852 256h1v2h-1zM853 258h1v1h-1zM854 259h1v1h-1zM855 260h1v2h-1zM856 262h1v1h-1zM857 263h1v1h-1zM858 264h1v1h-1zM859 265h1v1h-1zM860 266h1v1h-1zM861 267h1v2h-1zM862 269h1v1h-1zM863 270h1v1h-1zM864 271h1v1h-1zM865 272h1v1h-1zM866 273h1v1h-1zM867 274h1v1h-1zM868 275h1v1h-1zM869 276h1v1h-1zM870 277h1v1h-1zM871 278h1v1h-1zM872 279h1v1h-1zM873 280h1v1h-1zM874 281h1v1h-1zM875 282h1v1h-1zM876 283h1v1h-1zM877 284h1v1h-1zM878 285h1v1h-1zM879 286h1v1h-1zM880 287h1v1h-1zM881 288h1v1h-1zM882 289h1v1h-1zM883 290h1v1h-1zM884 291h1v1h-1zM885 292h1v1h-1zM886 293h1v2h-1zM887 295h1v1h-1zM888 296h1v2h-1zM889 298h1v1h-1zM890 299h1v1h-1zM891 300h1v2h-1zM892 302h1v1h-1zM893 303h1v1h-1zM894 304h1v2h-1zM895 306h1v1h-1zM896 307h1v2h-1zM897 309h1v1h-1zM898 310h1v2h-1zM899 312h1v2h-1zM900 314h1v2h-1zM901 316h1v1h-1zM902 317h1v2h-1zM903 319h1v2h-1zM904 321h1v2h-1zM905 323h1v2h-1zM906 325h1v1h-1zM907 326h1v1h-1zM908 327h1v2h-1zM909 329h1v1h-1zM910 330h1v1h-1zM911 331h1v2h-1zM912 333h1v1h-1zM913 334h1v2h-1zM914 336h1v1h-1zM915 337h1v1h-1zM916 338h1v2h-1zM917 340h1v1h-1zM918 341h1v2h-1zM919 343h1v1h-1zM920 344h1v2h-1zM921 346h1v1h-1zM922 347h1v1h-1zM923 348h1v2h-1zM924 350h1v2h-1zM925 352h1v2h-1zM926 354h1v2h-1zM927 356h1v3h-1zM928 359h1v2h-1zM929 361h1v2h-1zM930 363h1v2h-1zM931 365h1v2h-1zM932 367h1v2h-1zM933 369h1v2h-1zM934 371h1v3h-1zM935 374h1v2h-1zM936 376h1v2h-1zM937 378h1v2h-1zM938 380h1v2h-1zM939 382h1v2h-1zM940 384h1v3h-1zM941 387h1v2h-1zM942 389h1v2h-1zM943 391h1v2h-1zM944 393h1v2h-1zM945 395h1v2h-1zM946 397h1v2h-1zM947 399h1v2h-1zM948 401h1v2h-1zM949 403h1v2h-1zM950 405h1v2h-1zM951 407h1v2h-1zM952 409h1v2h-1zM953 411h1v2h-1zM954 413h1v2h-1zM955 415h1v3h-1zM956 418h1v2h-1zM957 420h1v2h-1zM958 422h1v2h-1zM959 424h1v2h-1zM960 426h1v2h-1zM961 428h1v2h-1zM962 430h1v1h-1zM963 431h1v2h-1zM964 433h1v2h-1zM965 435h1v1h-1zM966 436h1v2h-1zM967 438h1v1h-1zM968 439h1v2h-1zM969 441h1v1h-1zM970 442h1v2h-1zM971 444h1v1h-1zM972 445h1v1h-1zM973 446h1v1h-1zM974 447h1v2h-1zM975 449h1v1h-1zM976 450h1v1h-1zM977 451h1v2h-1zM978 453h1v1h-1zM979 454h1v1h-1zM980 455h1v1h-1zM981 456h1v2h-1zM982 458h1v1h-1zM983 459h1v1h-1zM984 460h1v1h-1zM985 461h1v1h-1zM986 462h1v1h-1zM987 463h1v1h-1zM988 464h1v2h-1zM989 466h1v1h-1zM990 467h1v1h-1zM991 468h1v1h-1zM992 469h1v1h-1zM993 470h1v1h-1zM994 471h1v1h-1zM995 472h1v1h-1zM996 473h1v1h-1zM997 474h1v1h-1zM998 475h1v2h-1zM999 477h1v1h-1zM1000 478h1v1h-1zM1001 479h1v1h-1zM1002 480h1v1h-1zM1003 481h1v1h-1zM1004 482h1v1h-1zM1005 483h1v1h-1zM1006 484h1v1h-1zM1007 485h1v1h-1zM1008 486h1v1h-1zM1009 487h1v2h-1zM1010 489h1v1h-1zM1011 490h1v1h-1zM1012 491h1v1h-1zM1013 492h1v2h-1zM1014 494h1v1h-1zM1015 495h1v2h-1zM1016 497h1v2h-1zM1017 499h1v2h-1zM1018 501h1v1h-1zM1019 502h1v1h-1zM1020 503h1v1h-1zM1021 504h1v1h-1zM1022 505h1v1h-1zM1023 506h1v1h-1zM1024 507h1v1h-1zM1025 508h2v1h-2zM1027 509h1v1h-1zM1028 510h1v1h-1zM1029 511h1v1h-1zM1030 512h1v1h-1zM1031 513h1v1h-1zM1032 514h1v1h-1zM1033 515h1v1h-1zM1034 516h2v1h-2zM1036 517h1v1h-1zM1037 518h1v1h-1zM1038 519h1v1h-1zM1039 520h1v1h-1zM1040 521h1v1h-1zM1041 522h2v1h-2zM1043 523h1v1h-1zM1044 524h1v1h-1zM1045 525h2v1h-2zM1047 526h2v1h-2zM1049 527h2v1h-2zM1051 528h1v1h-1zM1052 529h2v1h-2zM1054 530h2v1h-2zM1056 531h2v1h-2zM1058 532h3v1h-3zM1061 533h2v1h-2zM1063 534h2v1h-2zM1065 535h2v1h-2zM1067 536h10v1h-10zM1077 535h3v1h-3zM1080 534h3v1h-3zM1083 533h2v1h-2zM1085 532h3v1h-3zM1088 531h3v1h-3zM1091 530h3v1h-3zM1094 529h3v1h-3zM1097 528h3v1h-3zM1100 527h2v1h-2zM1102 526h3v1h-3zM1105 525h1v1h-1zM1106 524h2v1h-2zM1108 523h1v1h-1zM1109 522h1v1h-1zM1110 521h2v1h-2zM1112 520h1v1h-1zM1113 519h1v1h-1zM1114 518h2v1h-2zM1116 517h1v1h-1zM1117 516h2v1h-2zM1119 515h1v1h-1zM1120 514h1v1h-1zM1121 513h2v1h-2zM1123 512h1v1h-1zM1124 511h1v1h-1zM1125 510h1v1h-1zM1126 509h1v1h-1zM1127 508h1v1h-1zM1128 507h1v1h-1zM1129 506h1v1h-1zM1130 505h1v1h-1zM1131 504h1v1h-1zM1132 503h1v1h-1zM1133 502h1v1h-1zM1134 501h1v1h-1zM1135 500h1v1h-1zM1136 499h1v1h-1zM1137 498h1v1h-1zM1138 497h1v1h-1zM1139 495h1v2h-1zM1140 494h1v1h-1zM1141 493h1v1h-1zM1142 492h1v1h-1zM1143 490h1v2h-1zM1144 489h1v1h-1zM1145 488h1v1h-1zM1146 486h1v2h-1zM1147 485h1v1h-1zM1148 483h1v2h-1zM1149 482h1v1h-1zM1150 481h1v1h-1zM1151 479h1v2h-1zM1152 478h1v1h-1zM1153 476h1v2h-1zM1154 475h1v1h-1zM1155 473h1v2h-1zM1156 473h1v1h-1zM1157 472h1v1h-1zM1158 471h1v1h-1zM1159 470h1v1h-1zM1160 469h1v1h-1zM1161 468h1v1h-1zM1162 467h8v1h-8zM1170 466h1v1h-1zM1171 465h1v1h-1zM1172 464h1v1h-1zM1173 463h2v1h-2zM1175 462h1v1h-1zM1176 461h1v1h-1zM1177 460h1v1h-1zM1178 458h1v2h-1zM1179 457h1v1h-1zM1180 455h1v2h-1zM1181 454h1v1h-1zM1182 453h1v1h-1zM1183 451h1v2h-1zM1184 450h1v1h-1zM1185 449h1v1h-1zM1186 448h1v1h-1zM1187 447h1v1h-1zM1188 446h1v1h-1zM1189 445h1v1h-1zM1190 443h1v2h-1zM1191 442h1v1h-1zM1192 441h1v1h-1zM1193 440h1v1h-1zM1194 438h1v2h-1zM1195 437h1v1h-1zM1196 436h1v1h-1zM1197 434h1v2h-1zM1198 433h1v1h-1zM1199 432h1v1h-1zM1200 431h1v1h-1zM1201 429h1v2h-1zM1202 428h1v1h-1zM1203 427h1v1h-1zM1204 426h1v1h-1zM1205 424h1v2h-1zM1206 423h1v1h-1zM1207 422h1v1h-1zM1208 421h1v1h-1zM1209 420h1v1h-1zM1210 418h1v2h-1zM1211 417h1v1h-1zM1212 416h1v1h-1zM1213 415h1v1h-1zM1214 414h1v1h-1zM1215 413h1v1h-1zM1216 411h1v2h-1zM1217 410h1v1h-1zM1218 409h1v1h-1z" fill="#ffff00" shape-rendering="crispEdges"/>
</g>
<g shape-rendering="crispEdges" clip-path="url(#main)">
<rect x="3" y="180" width="1" height="23" fill="#404040"/>
<rect x="1" y="187" width="5" height="4" fill="#404040"/>
<rect x="11" y="183" width="1" height="19" fill="#1ab2da"/>
<rect x="9" y="188" width="5" height="2" fill="#1ab2da"/>
<rect x="19" y="185" width="1" height="23" fill="#404040"/>
<rect x="17" y="188" width="5" height="17" fill="#404040"/>
<rect x="27" y="192" width="1" height="52" fill="#404040"/>
<rect x="25" y="204" width="5" height="23" fill="#404040"/>
<rect x="35" y="207" width="1" height="43" fill="#404040"/>
<rect x="33" y="226" width="5" height="4" fill="#404040"/>
<rect x="43" y="210" width="1" height="41" fill="#1ab2da"/>
<rect x="41" y="220" width="5" height="8" fill="#1ab2da"/>
<rect x="42" y="221" width="3" height="6" fill="#fff"/>
<rect x="51" y="184" width="1" height="40" fill="#1ab2da"/>
<rect x="49" y="191" width="5" height="29" fill="#1ab2da"/>
<rect x="50" y="192" width="3" height="27" fill="#fff"/>
<rect x="59" y="186" width="1" height="15" fill="#404040"/>
<rect x="57" y="190" width="5" height="4" fill="#404040"/>
<rect x="67" y="169" width="1" height="16" fill="#1ab2da"/>
<rect x="65" y="173" width="5" height="7" fill="#1ab2da"/>
<rect x="66" y="174" width="3" height="5" fill="#fff"/>
<rect x="75" y="163" width="1" height="20" fill="#404040"/>
<rect x="73" y="172" width="5" height="3" fill="#404040"/>
<rect x="83" y="163" width="1" height="23" fill="#1ab2da"/>
<rect x="81" y="170" width="5" height="5" fill="#1ab2da"/>
<rect x="82" y="171" width="3" height="3" fill="#fff"/>
<rect x="91" y="153" width="1" height="37" fill="#1ab2da"/>
<rect x="89" y="169" width="5" height="2" fill="#1ab2da"/>
<rect x="99" y="156" width="1" height="18" fill="#1ab2da"/>
<rect x="97" y="157" width="5" height="12" fill="#1ab2da"/>
<rect x="98" y="158" width="3" height="10" fill="#fff"/>
<rect x="107" y="149" width="1" height="13" fill="#1ab2da"/>
<rect x="105" y="150" width="5" height="7" fill="#1ab2da"/>
<rect x="106" y="151" width="3" height="5" fill="#fff"/>
<rect x="115" y="134" width="1" height="19" fill="#1ab2da"/>
<rect x="113" y="138" width="5" height="12" fill="#1ab2da"/>
<rect x="114" y="139" width="3" height="10" fill="#fff"/>
<rect x="123" y="136" width="1" height="18" fill="#404040"/>
<rect x="121" y="137" width="5" height="9" fill="#404040"/>
<rect x="131" y="136" width="1" height="18" fill="#1ab2da"/>
<rect x="129" y="141" width="5" height="4" fill="#1ab2da"/>
<rect x="130" y="142" width="3" height="2" fill="#fff"/>
<rect x="139" y="139" width="1" height="34" fill="#404040"/>
<rect x="137" y="142" width="5" height="10" fill="#404040"/>
<rect x="147" y="108" width="1" height="44" fill="#1ab2da"/>
<rect x="145" y="128" width="5" height="23" fill="#1ab2da"/>
<rect x="146" y="129" width="3" height="21" fill="#fff"/>
<rect x="155" y="109" width="1" height="51" fill="#404040"/>
<rect x="153" y="128" width="5" height="16" fill="#404040"/>
<rect x="163" y="144" width="1" height="37" fill="#404040"/>
<rect x="161" y="144" width="5" height="29" fill="#404040"/>
<rect x="171" y="137" width="1" height="39" fill="#1ab2da"/>
<rect x="169" y="150" width="5" height="22" fill="#1ab2da"/>
<rect x="170" y="151" width="3" height="20" fill="#fff"/>
<rect x="179" y="129" width="1" height="22" fill="#1ab2da"/>
<rect x="177" y="130" width="5" height="20" fill="#1ab2da"/>
<rect x="178" y="131" width="3" height="18" fill="#fff"/>
<rect x="187" y="111" width="1" height="37" fill="#404040"/>
<rect x="185" y="130" width="5" height="6" fill="#404040"/>
<rect x="195" y="130" width="1" height="22" fill="#1ab2da"/>
<rect x="193" y="132" width="5" height="6" fill="#1ab2da"/>
<rect x="194" y="133" width="3" height="4" fill="#fff"/>
<rect x="203" y="113" width="1" height="21" fill="#1ab2da"/>
<rect x="201" y="114" width="5" height="19" fill="#1ab2da"/>
<rect x="202" y="115" width="3" height="17" fill="#fff"/>
<rect x="211" y="108" width="1" height="13" fill="#1ab2da"/>
<rect x="209" y="109" width="5" height="4" fill="#1ab2da"/>
<rect x="210" y="110" width="3" height="2" fill="#fff"/>
<rect x="219" y="103" width="1" height="15" fill="#1ab2da"/>
<rect x="217" y="107" width="5" height="3" fill="#1ab2da"/>
<rect x="218" y="108" width="3" height="1" fill="#fff"/>
<rect x="227" y="91" width="1" height="23" fill="#1ab2da"/>
<rect x="225" y="96" width="5" height="10" fill="#1ab2da"/>
<rect x="226" y="97" width="3" height="8" fill="#fff"/>
<rect x="235" y="78" width="1" height="35" fill="#1ab2da"/>
<rect x="233" y="94" width="5" height="3" fill="#1ab2da"/>
<rect x="234" y="95" width="3" height="1" fill="#fff"/>
<rect x="243" y="76" width="1" height="23" fill="#1ab2da"/>
<rect x="241" y="79" width="5" height="16" fill="#1ab2da"/>
<rect x="242" y="80" width="3" height="14" fill="#fff"/>
<rect x="251" y="80" width="1" height="10" fill="#404040"/>
<rect x="283" y="80" width="1" height="13" fill="#404040"/>
<rect x="281" y="80" width="5" height="12" fill="#404040"/>
<rect x="291" y="80" width="1" height="15" fill="#1ab2da"/>
<rect x="289" y="89" width="5" height="3" fill="#1ab2da"/>
<rect x="290" y="90" width="3" height="1" fill="#fff"/>
<rect x="299" y="71" width="1" height="20" fill="#1ab2da"/>
<rect x="297" y="83" width="5" height="7" fill="#1ab2da"/>
<rect x="298" y="84" width="3" height="5" fill="#fff"/>
<rect x="307" y="77" width="1" height="7" fill="#1ab2da"/>
<rect x="305" y="78" width="5" height="5" fill="#1ab2da"/>
<rect x="306" y="79" width="3" height="3" fill="#fff"/>
<rect x="315" y="74" width="1" height="9" fill="#1ab2da"/>
<rect x="313" y="79" width="5" height="3" fill="#1ab2da"/>
<rect x="314" y="80" width="3" height="1" fill="#fff"/>
<rect x="323" y="65" width="1" height="22" fill="#1ab2da"/>
<rect x="321" y="70" width="5" height="9" fill="#1ab2da"/>
<rect x="322" y="71" width="3" height="7" fill="#fff"/>
<rect x="331" y="52" width="1" height="22" fill="#1ab2da"/>
<rect x="329" y="67" width="5" height="3" fill="#1ab2da"/>
<rect x="330" y="68" width="3" height="1" fill="#fff"/>
<rect x="339" y="49" width="1" height="31" fill="#1ab2da"/>
<rect x="337" y="61" width="5" height="6" fill="#1ab2da"/>
<rect x="338" y="62" width="3" height="4" fill="#fff"/>
<rect x="347" y="47" width="1" height="21" fill="#1ab2da"/>
<rect x="345" y="57" width="5" height="5" fill="#1ab2da"/>
<rect x="346" y="58" width="3" height="3" fill="#fff"/>
<rect x="355" y="39" width="1" height="20" fill="#1ab2da"/>
<rect x="353" y="43" width="5" height="14" fill="#1ab2da"/>
<rect x="354" y="44" width="3" height="12" fill="#fff"/>
<rect x="363" y="34" width="1" height="17" fill="#1ab2da"/>
<rect x="361" y="42" width="5" height="1" fill="#1ab2da"/>
<rect x="371" y="40" width="1" height="23" fill="#404040"/>
<rect x="369" y="43" width="5" height="12" fill="#404040"/>
<rect x="379" y="43" width="1" height="15" fill="#404040"/>
<rect x="377" y="54" width="5" height="1" fill="#404040"/>
<rect x="387" y="53" width="1" height="32" fill="#404040"/>
<rect x="385" y="54" width="5" height="17" fill="#404040"/>
<rect x="395" y="68" width="1" height="45" fill="#404040"/>
<rect x="393" y="70" width="5" height="30" fill="#404040"/>
<rect x="403" y="89" width="1" height="21" fill="#404040"/>
<rect x="401" y="100" width="5" height="3" fill="#404040"/>
<rect x="411" y="88" width="1" height="14" fill="#1ab2da"/>
<rect x="409" y="93" width="5" height="9" fill="#1ab2da"/>
<rect x="410" y="94" width="3" height="7" fill="#fff"/>
<rect x="419" y="86" width="1" height="15" fill="#1ab2da"/>
<rect x="417" y="91" width="5" height="2" fill="#1ab2da"/>
<rect x="427" y="82" width="1" height="17" fill="#1ab2da"/>
<rect x="425" y="87" width="5" height="4" fill="#1ab2da"/>
<rect x="426" y="88" width="3" height="2" fill="#fff"/>
<rect x="435" y="75" width="1" height="32" fill="#404040"/>
<rect x="433" y="86" width="5" height="13" fill="#404040"/>
<rect x="443" y="79" width="1" height="26" fill="#1ab2da"/>
<rect x="441" y="87" width="5" height="12" fill="#1ab2da"/>
<rect x="442" y="88" width="3" height="10" fill="#fff"/>
<rect x="451" y="82" width="1" height="31" fill="#404040"/>
<rect x="449" y="87" width="5" height="18" fill="#404040"/>
<rect x="459" y="97" width="1" height="19" fill="#404040"/>
<rect x="457" y="105" width="5" height="2" fill="#404040"/>
<rect x="467" y="99" width="1" height="23" fill="#404040"/>
<rect x="465" y="107" width="5" height="14" fill="#404040"/>
<rect x="475" y="110" width="1" height="32" fill="#404040"/>
<rect x="473" y="121" width="5" height="19" fill="#404040"/>
<rect x="483" y="139" width="1" height="93" fill="#404040"/>
<rect x="481" y="139" width="5" height="68" fill="#404040"/>
<rect x="491" y="192" width="1" height="34" fill="#1ab2da"/>
<rect x="489" y="202" width="5" height="5" fill="#1ab2da"/>
<rect x="490" y="203" width="3" height="3" fill="#fff"/>
<rect x="499" y="182" width="1" height="26" fill="#1ab2da"/>
<rect x="497" y="186" width="5" height="16" fill="#1ab2da"/>
<rect x="498" y="187" width="3" height="14" fill="#fff"/>
<rect x="507" y="178" width="1" height="9" fill="#1ab2da"/>
<rect x="505" y="182" width="5" height="5" fill="#1ab2da"/>
<rect x="506" y="183" width="3" height="3" fill="#fff"/>
<rect x="515" y="164" width="1" height="22" fill="#1ab2da"/>
<rect x="513" y="166" width="5" height="16" fill="#1ab2da"/>
<rect x="514" y="167" width="3" height="14" fill="#fff"/>
<rect x="523" y="165" width="1" height="30" fill="#404040"/>
<rect x="521" y="166" width="5" height="7" fill="#404040"/>
<rect x="531" y="144" width="1" height="43" fill="#1ab2da"/>
<rect x="529" y="158" width="5" height="16" fill="#1ab2da"/>
<rect x="530" y="159" width="3" height="14" fill="#fff"/>
<rect x="539" y="111" width="1" height="52" fill="#1ab2da"/>
<rect x="537" y="122" width="5" height="34" fill="#1ab2da"/>
<rect x="538" y="123" width="3" height="32" fill="#fff"/>
<rect x="547" y="119" width="1" height="14" fill="#1ab2da"/>
<rect x="545" y="119" width="5" height="2" fill="#1ab2da"/>
<rect x="555" y="119" width="1" height="15" fill="#404040"/>
<rect x="553" y="120" width="5" height="10" fill="#404040"/>
<rect x="563" y="125" width="1" height="7" fill="#404040"/>
<rect x="561" y="128" width="5" height="1" fill="#404040"/>
<rect x="571" y="112" width="1" height="18" fill="#1ab2da"/>
<rect x="569" y="121" width="5" height="5" fill="#1ab2da"/>
<rect x="570" y="122" width="3" height="3" fill="#fff"/>
<rect x="579" y="110" width="1" height="21" fill="#1ab2da"/>
<rect x="577" y="118" width="5" height="4" fill="#1ab2da"/>
<rect x="578" y="119" width="3" height="2" fill="#fff"/>
<rect x="587" y="88" width="1" height="42" fill="#404040"/>
<rect x="585" y="117" width="5" height="6" fill="#404040"/>
<rect x="595" y="121" width="1" height="38" fill="#404040"/>
<rect x="593" y="122" width="5" height="16" fill="#404040"/>
<rect x="603" y="131" width="1" height="49" fill="#404040"/>
<rect x="601" y="136" width="5" height="44" fill="#404040"/>
<rect x="611" y="162" width="1" height="27" fill="#1ab2da"/>
<rect x="609" y="164" width="5" height="16" fill="#1ab2da"/>
<rect x="610" y="165" width="3" height="14" fill="#fff"/>
<rect x="619" y="150" width="1" height="25" fill="#404040"/>
<rect x="617" y="164" width="5" height="7" fill="#404040"/>
<rect x="627" y="160" width="1" height="20" fill="#1ab2da"/>
<rect x="625" y="160" width="5" height="10" fill="#1ab2da"/>
<rect x="626" y="161" width="3" height="8" fill="#fff"/>
<rect x="635" y="146" width="1" height="29" fill="#1ab2da"/>
<rect x="633" y="156" width="5" height="5" fill="#1ab2da"/>
<rect x="634" y="157" width="3" height="3" fill="#fff"/>
<rect x="643" y="152" width="1" height="37" fill="#404040"/>
<rect x="641" y="156" width="5" height="11" fill="#404040"/>
<rect x="651" y="162" width="1" height="26" fill="#404040"/>
<rect x="649" y="167" width="5" height="7" fill="#404040"/>
<rect x="659" y="171" width="1" height="35" fill="#404040"/>
<rect x="657" y="174" width="5" height="4" fill="#404040"/>
<rect x="667" y="164" width="1" height="22" fill="#1ab2da"/>
<rect x="665" y="171" width="5" height="6" fill="#1ab2da"/>
<rect x="666" y="172" width="3" height="4" fill="#fff"/>
<rect x="675" y="157" width="1" height="19" fill="#1ab2da"/>
<rect x="673" y="165" width="5" height="6" fill="#1ab2da"/>
<rect x="674" y="166" width="3" height="4" fill="#fff"/>
<rect x="683" y="166" width="1" height="82" fill="#404040"/>
<rect x="681" y="166" width="5" height="46" fill="#404040"/>
<rect x="691" y="205" width="1" height="25" fill="#404040"/>
<rect x="689" y="211" width="5" height="16" fill="#404040"/>
<rect x="699" y="227" width="1" height="23" fill="#404040"/>
<rect x="697" y="227" width="5" height="5" fill="#404040"/>
<rect x="707" y="230" width="1" height="23" fill="#404040"/>
<rect x="705" y="230" width="5" height="22" fill="#404040"/>
<rect x="715" y="246" width="1" height="35" fill="#404040"/>
<rect x="713" y="250" width="5" height="18" fill="#404040"/>
<rect x="723" y="258" width="1" height="20" fill="#404040"/>
<rect x="721" y="267" width="5" height="1" fill="#404040"/>
<rect x="731" y="241" width="1" height="74" fill="#1ab2da"/>
<rect x="729" y="245" width="5" height="23" fill="#1ab2da"/>
<rect x="730" y="246" width="3" height="21" fill="#fff"/>
<rect x="739" y="234" width="1" height="44" fill="#404040"/>
<rect x="737" y="245" width="5" height="19" fill="#404040"/>
<rect x="747" y="229" width="1" height="36" fill="#1ab2da"/>
<rect x="745" y="234" width="5" height="30" fill="#1ab2da"/>
<rect x="746" y="235" width="3" height="28" fill="#fff"/>
<rect x="755" y="224" width="1" height="18" fill="#1ab2da"/>
<rect x="753" y="229" width="5" height="5" fill="#1ab2da"/>
<rect x="754" y="230" width="3" height="3" fill="#fff"/>
<rect x="763" y="228" width="1" height="24" fill="#404040"/>
<rect x="761" y="228" width="5" height="15" fill="#404040"/>
<rect x="771" y="229" width="1" height="32" fill="#404040"/>
<rect x="769" y="243" width="5" height="16" fill="#404040"/>
<rect x="779" y="195" width="1" height="66" fill="#1ab2da"/>
<rect x="777" y="203" width="5" height="56" fill="#1ab2da"/>
<rect x="778" y="204" width="3" height="54" fill="#fff"/>
<rect x="787" y="189" width="1" height="32" fill="#404040"/>
<rect x="785" y="204" width="5" height="16" fill="#404040"/>
<rect x="795" y="213" width="1" height="20" fill="#1ab2da"/>
<rect x="793" y="218" width="5" height="1" fill="#1ab2da"/>
<rect x="803" y="207" width="1" height="13" fill="#1ab2da"/>
<rect x="801" y="209" width="5" height="11" fill="#1ab2da"/>
<rect x="802" y="210" width="3" height="9" fill="#fff"/>
<rect x="811" y="226" width="1" height="18" fill="#404040"/>
<rect x="809" y="226" width="5" height="10" fill="#404040"/>
<rect x="819" y="222" width="1" height="42" fill="#404040"/>
<rect x="817" y="235" width="5" height="29" fill="#404040"/>
<rect x="827" y="263" width="1" height="23" fill="#404040"/>
<rect x="825" y="263" width="5" height="20" fill="#404040"/>
<rect x="835" y="277" width="1" height="67" fill="#404040"/>
<rect x="833" y="283" width="5" height="24" fill="#404040"/>
<rect x="843" y="301" width="1" height="54" fill="#404040"/>
<rect x="841" y="307" width="5" height="48" fill="#404040"/>
<rect x="851" y="353" width="1" height="47" fill="#404040"/>
<rect x="849" y="354" width="5" height="19" fill="#404040"/>
<rect x="859" y="357" width="1" height="21" fill="#1ab2da"/>
<rect x="857" y="360" width="5" height="12" fill="#1ab2da"/>
<rect x="858" y="361" width="3" height="10" fill="#fff"/>
<rect x="867" y="356" width="1" height="18" fill="#404040"/>
<rect x="865" y="359" width="5" height="13" fill="#404040"/>
<rect x="875" y="345" width="1" height="29" fill="#1ab2da"/>
<rect x="873" y="345" width="5" height="26" fill="#1ab2da"/>
<rect x="874" y="346" width="3" height="24" fill="#fff"/>
<rect x="883" y="337" width="1" height="71" fill="#404040"/>
<rect x="881" y="345" width="5" height="27" fill="#404040"/>
<rect x="891" y="367" width="1" height="42" fill="#404040"/>
<rect x="889" y="372" width="5" height="37" fill="#404040"/>
<rect x="899" y="398" width="1" height="34" fill="#404040"/>
<rect x="897" y="407" width="5" height="17" fill="#404040"/>
<rect x="907" y="419" width="1" height="52" fill="#404040"/>
<rect x="905" y="423" width="5" height="45" fill="#404040"/>
<rect x="915" y="442" width="1" height="26" fill="#1ab2da"/>
<rect x="913" y="460" width="5" height="8" fill="#1ab2da"/>
<rect x="914" y="461" width="3" height="6" fill="#fff"/>
<rect x="923" y="442" width="1" height="32" fill="#404040"/>
<rect x="921" y="460" width="5" height="5" fill="#404040"/>
<rect x="931" y="453" width="1" height="99" fill="#404040"/>
<rect x="929" y="464" width="5" height="70" fill="#404040"/>
<rect x="939" y="528" width="1" height="68" fill="#404040"/>
<rect x="937" y="532" width="5" height="53" fill="#404040"/>
<rect x="947" y="558" width="1" height="51" fill="#1ab2da"/>
<rect x="945" y="573" width="5" height="11" fill="#1ab2da"/>
<rect x="946" y="574" width="3" height="9" fill="#fff"/>
<rect x="955" y="572" width="1" height="30" fill="#404040"/>
<rect x="953" y="573" width="5" height="10" fill="#404040"/>
<rect x="963" y="556" width="1" height="37" fill="#1ab2da"/>
<rect x="961" y="576" width="5" height="6" fill="#1ab2da"/>
<rect x="962" y="577" width="3" height="4" fill="#fff"/>
<rect x="971" y="543" width="1" height="34" fill="#1ab2da"/>
<rect x="969" y="561" width="5" height="15" fill="#1ab2da"/>
<rect x="970" y="562" width="3" height="13" fill="#fff"/>
<rect x="979" y="541" width="1" height="55" fill="#1ab2da"/>
<rect x="977" y="555" width="5" height="5" fill="#1ab2da"/>
<rect x="978" y="556" width="3" height="3" fill="#fff"/>
<rect x="987" y="543" width="1" height="66" fill="#404040"/>
<rect x="985" y="555" width="5" height="5" fill="#404040"/>
<rect x="995" y="525" width="1" height="47" fill="#1ab2da"/>
<rect x="993" y="545" width="5" height="14" fill="#1ab2da"/>
<rect x="994" y="546" width="3" height="12" fill="#fff"/>
<rect x="1003" y="537" width="1" height="41" fill="#404040"/>
<rect x="1001" y="545" width="5" height="26" fill="#404040"/>
<rect x="1011" y="558" width="1" height="32" fill="#404040"/>
<rect x="1009" y="570" width="5" height="10" fill="#404040"/>
<rect x="1019" y="566" width="1" height="87" fill="#404040"/>
<rect x="1017" y="579" width="5" height="58" fill="#404040"/>
<rect x="1027" y="559" width="1" height="76" fill="#1ab2da"/>
<rect x="1025" y="566" width="5" height="69" fill="#1ab2da"/>
<rect x="1026" y="567" width="3" height="67" fill="#fff"/>
<rect x="1035" y="556" width="1" height="52" fill="#404040"/>
<rect x="1033" y="566" width="5" height="42" fill="#404040"/>
<rect x="1043" y="565" width="1" height="43" fill="#1ab2da"/>
<rect x="1041" y="589" width="5" height="19" fill="#1ab2da"/>
<rect x="1042" y="590" width="3" height="17" fill="#fff"/>
<rect x="1051" y="548" width="1" height="46" fill="#1ab2da"/>
<rect x="1049" y="552" width="5" height="38" fill="#1ab2da"/>
<rect x="1050" y="553" width="3" height="36" fill="#fff"/>
<rect x="1059" y="564" width="1" height="31" fill="#404040"/>
<rect x="1057" y="564" width="5" height="18" fill="#404040"/>
<rect x="1067" y="555" width="1" height="37" fill="#1ab2da"/>
<rect x="1065" y="576" width="5" height="6" fill="#1ab2da"/>
<rect x="1066" y="577" width="3" height="4" fill="#fff"/>
<rect x="1075" y="540" width="1" height="41" fill="#1ab2da"/>
<rect x="1073" y="541" width="5" height="34" fill="#1ab2da"/>
<rect x="1074" y="542" width="3" height="32" fill="#fff"/>
<rect x="1083" y="493" width="1" height="87" fill="#1ab2da"/>
<rect x="1081" y="502" width="5" height="39" fill="#1ab2da"/>
<rect x="1082" y="503" width="3" height="37" fill="#fff"/>
<rect x="1091" y="483" width="1" height="36" fill="#404040"/>
<rect x="1089" y="502" width="5" height="6" fill="#404040"/>
<rect x="1099" y="491" width="1" height="37" fill="#1ab2da"/>
<rect x="1097" y="506" width="5" height="1" fill="#1ab2da"/>
<rect x="1107" y="484" width="1" height="24" fill="#1ab2da"/>
<rect x="1105" y="487" width="5" height="19" fill="#1ab2da"/>
<rect x="1106" y="488" width="3" height="17" fill="#fff"/>
<rect x="1115" y="456" width="1" height="38" fill="#1ab2da"/>
<rect x="1113" y="466" width="5" height="21" fill="#1ab2da"/>
<rect x="1114" y="467" width="3" height="19" fill="#fff"/>
<rect x="1123" y="458" width="1" height="19" fill="#1ab2da"/>
<rect x="1121" y="466" width="5" height="1" fill="#1ab2da"/>
<rect x="1131" y="416" width="1" height="64" fill="#1ab2da"/>
<rect x="1129" y="429" width="5" height="37" fill="#1ab2da"/>
<rect x="1130" y="430" width="3" height="35" fill="#fff"/>
<rect x="1139" y="404" width="1" height="38" fill="#1ab2da"/>
<rect x="1137" y="404" width="5" height="25" fill="#1ab2da"/>
<rect x="1138" y="405" width="3" height="23" fill="#fff"/>
<rect x="1147" y="394" width="1" height="22" fill="#1ab2da"/>
<rect x="1145" y="397" width="5" height="8" fill="#1ab2da"/>
<rect x="1146" y="398" width="3" height="6" fill="#fff"/>
<rect x="1155" y="342" width="1" height="63" fill="#1ab2da"/>
<rect x="1153" y="359" width="5" height="38" fill="#1ab2da"/>
<rect x="1154" y="360" width="3" height="36" fill="#fff"/>
<rect x="1163" y="343" width="1" height="106" fill="#404040"/>
<rect x="1161" y="359" width="5" height="17" fill="#404040"/>
<rect x="1171" y="361" width="1" height="140" fill="#404040"/>
<rect x="1169" y="376" width="5" height="86" fill="#404040"/>
<rect x="1179" y="364" width="1" height="118" fill="#1ab2da"/>
<rect x="1177" y="387" width="5" height="75" fill="#1ab2da"/>
<rect x="1178" y="388" width="3" height="73" fill="#fff"/>
<rect x="1187" y="318" width="1" height="75" fill="#1ab2da"/>
<rect x="1185" y="326" width="5" height="61" fill="#1ab2da"/>
<rect x="1186" y="327" width="3" height="59" fill="#fff"/>
<rect x="1195" y="308" width="1" height="38" fill="#404040"/>
<rect x="1193" y="326" width="5" height="4" fill="#404040"/>
<rect x="1203" y="326" width="1" height="26" fill="#404040"/>
<rect x="1201" y="329" width="5" height="15" fill="#404040"/>
<rect x="1211" y="310" width="1" height="41" fill="#1ab2da"/>
<rect x="1209" y="317" width="5" height="26" fill="#1ab2da"/>
<rect x="1210" y="318" width="3" height="24" fill="#fff"/>
<rect x="1219" y="297" width="1" height="29" fill="#1ab2da"/>
<rect x="1217" y="309" width="5" height="8" fill="#1ab2da"/>
<rect x="1218" y="310" width="3" height="6" fill="#fff"/>
</g>
<g fill="none" stroke-linecap="round" stroke-linejoin="round">
<path d="M1225.1 298.3 C1232 281 1238 261 1245 261 C1256 261 1262 348.6 1277.4 348.6 C1296 348.6 1318 272 1339.5 203" stroke="#1ab2da" stroke-width="2.4"/>
<path d="M1343 192.6 L1335.2 200.6 L1344.6 203.4 Z" fill="#1ab2da" stroke="#1ab2da" stroke-width="1"/>
<path d="M1263.9 418.7 C1273 448 1290 500 1301.5 500 C1311 500 1315 447 1325.8 447 C1345 447 1372 545 1390.5 596" stroke="#485562" stroke-width="1.9"/>
<path d="M1394.1 605.7 L1386.2 598.6 L1395.4 595.6 Z" fill="#485562" stroke="#485562" stroke-width="1"/>
</g>
<path d="M3 738h10v1h-10zM13 739h2v1h-2zM15 740h2v1h-2zM17 741h2v1h-2zM19 742h2v1h-2zM21 743h1v1h-1zM22 744h1v1h-1zM23 745h2v1h-2zM25 746h1v1h-1zM26 747h1v1h-1zM27 748h7v1h-7zM34 749h2v1h-2zM36 748h2v1h-2zM38 747h2v1h-2zM40 746h2v1h-2zM42 745h2v1h-2zM44 743h1v2h-1zM45 742h1v1h-1zM46 741h1v1h-1zM47 740h1v1h-1zM48 739h1v1h-1zM49 737h1v2h-1zM50 736h1v1h-1zM51 735h4v1h-4zM55 736h5v1h-5zM60 735h1v1h-1zM61 734h1v1h-1zM62 733h1v1h-1zM63 732h2v1h-2zM65 731h1v1h-1zM66 730h1v1h-1zM67 729h5v1h-5zM72 730h6v1h-6zM78 729h4v1h-4zM82 728h10v1h-10zM92 727h2v1h-2zM94 726h2v1h-2zM96 725h2v1h-2zM98 724h3v1h-3zM101 723h3v1h-3zM104 722h4v1h-4zM108 721h2v1h-2zM110 720h2v1h-2zM112 719h2v1h-2zM114 718h3v1h-3zM117 719h2v1h-2zM119 720h2v1h-2zM121 721h2v1h-2zM123 722h3v1h-3zM126 721h7v1h-7zM133 722h1v1h-1zM134 723h2v1h-2zM136 724h1v1h-1zM137 725h2v1h-2zM139 726h1v1h-1zM140 725h1v1h-1zM141 724h1v1h-1zM142 723h1v1h-1zM143 722h1v1h-1zM144 721h1v1h-1zM145 720h1v1h-1zM146 719h1v1h-1zM147 718h1v1h-1zM148 719h1v1h-1zM149 720h2v1h-2zM151 721h1v1h-1zM152 722h1v1h-1zM153 723h1v1h-1zM154 724h1v1h-1zM155 725h1v1h-1zM156 726h1v1h-1zM157 727h1v1h-1zM158 728h1v2h-1zM159 730h1v1h-1zM160 731h1v2h-1zM161 733h1v1h-1zM162 734h1v1h-1zM163 735h1v2h-1zM164 735h1v1h-1zM165 734h1v1h-1zM166 733h1v1h-1zM167 732h1v1h-1zM168 731h1v1h-1zM169 730h1v1h-1zM170 729h1v1h-1zM171 728h2v1h-2zM173 727h1v1h-1zM174 726h2v1h-2zM176 725h1v1h-1zM177 724h2v1h-2zM179 723h2v1h-2zM181 724h3v1h-3zM184 725h2v1h-2zM186 726h3v1h-3zM189 725h3v1h-3zM192 724h3v1h-3zM195 723h2v1h-2zM197 722h2v1h-2zM199 721h2v1h-2zM201 720h2v1h-2zM203 719h5v1h-5zM208 718h6v1h-6zM214 717h7v1h-7zM221 716h4v1h-4zM225 715h5v1h-5zM230 714h6v1h-6zM236 713h2v1h-2zM238 712h1v1h-1zM239 711h2v1h-2zM241 710h2v1h-2zM243 709h2v1h-2zM245 710h5v1h-5zM250 711h2v1h-2zM252 710h2v1h-2zM254 709h2v1h-2zM256 708h2v1h-2zM258 707h3v1h-3zM261 708h3v1h-3zM264 709h2v1h-2zM266 710h2v1h-2zM268 711h1v1h-1zM269 712h1v1h-1zM270 713h1v1h-1zM271 714h2v1h-2zM273 715h1v1h-1zM274 716h1v1h-1zM275 717h1v1h-1zM276 718h2v1h-2zM278 719h2v1h-2zM280 720h1v1h-1zM281 721h2v1h-2zM283 722h3v1h-3zM286 721h7v1h-7zM293 720h5v1h-5zM298 719h6v1h-6zM304 718h13v1h-13zM317 717h2v1h-2zM319 716h3v1h-3zM322 715h4v1h-4zM326 714h7v1h-7zM333 713h4v1h-4zM337 712h4v1h-4zM341 711h3v1h-3zM344 710h4v1h-4zM348 709h2v1h-2zM350 708h2v1h-2zM352 707h2v1h-2zM354 706h10v1h-10zM364 707h1v1h-1zM365 708h1v1h-1zM366 709h1v1h-1zM367 710h1v1h-1zM368 711h1v1h-1zM369 712h1v1h-1zM370 713h1v1h-1zM371 714h1v2h-1zM372 715h8v1h-8zM380 716h1v1h-1zM381 717h1v2h-1zM382 719h1v1h-1zM383 720h1v1h-1zM384 721h1v1h-1zM385 722h1v2h-1zM386 724h1v1h-1zM387 725h1v1h-1zM388 726h1v2h-1zM389 728h1v2h-1zM390 730h1v2h-1zM391 732h1v2h-1zM392 734h1v2h-1zM393 736h1v2h-1zM394 738h1v2h-1zM395 740h1v2h-1zM396 741h5v1h-5zM401 742h3v1h-3zM404 741h2v1h-2zM406 740h1v1h-1zM407 739h2v1h-2zM409 738h2v1h-2zM411 737h4v1h-4zM415 736h6v1h-6zM421 735h4v1h-4zM425 734h3v1h-3zM428 735h2v1h-2zM430 736h1v1h-1zM431 737h2v1h-2zM433 738h1v1h-1zM434 739h1v1h-1zM435 740h1v1h-1zM436 739h1v1h-1zM437 738h1v1h-1zM438 737h2v1h-2zM440 736h1v1h-1zM441 735h2v1h-2zM443 734h1v1h-1zM444 735h1v1h-1zM445 736h1v1h-1zM446 737h1v1h-1zM447 738h1v1h-1zM448 739h1v1h-1zM449 740h1v1h-1zM450 741h1v1h-1zM451 742h6v1h-6zM457 743h3v1h-3zM460 744h2v1h-2zM462 745h2v1h-2zM464 746h1v1h-1zM465 747h2v1h-2zM467 748h1v1h-1zM468 749h2v1h-2zM470 750h1v1h-1zM471 751h1v1h-1zM472 752h1v1h-1zM473 753h1v1h-1zM474 754h1v1h-1zM475 755h1v1h-1zM476 756h1v1h-1zM477 757h1v2h-1zM478 759h1v2h-1zM479 761h1v2h-1zM480 763h1v2h-1zM481 765h1v1h-1zM482 766h1v2h-1zM483 768h1v2h-1zM484 769h1v1h-1zM485 768h4v1h-4zM489 767h3v1h-3zM492 766h1v1h-1zM493 765h1v1h-1zM494 764h1v1h-1zM495 763h1v1h-1zM496 762h1v1h-1zM497 761h1v1h-1zM498 760h1v1h-1zM499 759h2v1h-2zM501 758h4v1h-4zM505 757h3v1h-3zM508 756h1v1h-1zM509 755h1v1h-1zM510 754h1v1h-1zM511 753h1v1h-1zM512 752h1v1h-1zM513 751h1v1h-1zM514 750h1v1h-1zM515 749h3v1h-3zM518 750h4v1h-4zM522 751h2v1h-2zM524 750h1v1h-1zM525 749h1v1h-1zM526 748h1v1h-1zM527 747h2v1h-2zM529 746h1v1h-1zM530 745h1v1h-1zM531 744h1v1h-1zM532 742h1v2h-1zM533 741h1v1h-1zM534 739h1v2h-1zM535 737h1v2h-1zM536 736h1v1h-1zM537 734h1v2h-1zM538 733h1v1h-1zM539 731h1v2h-1zM540 731h9v1h-9zM549 732h2v1h-2zM551 733h2v1h-2zM553 734h2v1h-2zM555 735h1v1h-1zM556 734h5v1h-5zM561 733h5v1h-5zM566 732h4v1h-4zM570 731h4v1h-4zM574 730h9v1h-9zM583 731h4v1h-4zM587 732h2v1h-2zM589 733h1v1h-1zM590 734h1v1h-1zM591 735h2v1h-2zM593 736h1v1h-1zM594 737h1v1h-1zM595 738h1v1h-1zM596 739h1v1h-1zM597 740h1v2h-1zM598 742h1v2h-1zM599 744h1v1h-1zM600 745h1v2h-1zM601 747h1v2h-1zM602 749h1v1h-1zM603 750h1v2h-1zM604 750h1v1h-1zM605 749h2v1h-2zM607 748h1v1h-1zM608 747h1v1h-1zM609 746h2v1h-2zM611 745h4v1h-4zM615 746h6v1h-6zM621 745h2v1h-2zM623 744h2v1h-2zM625 743h2v1h-2zM627 742h7v1h-7zM634 741h2v1h-2zM636 742h3v1h-3zM639 743h4v1h-4zM643 744h3v1h-3zM646 745h4v1h-4zM650 746h7v1h-7zM657 747h3v1h-3zM660 746h3v1h-3zM663 745h3v1h-3zM666 744h2v1h-2zM668 743h3v1h-3zM671 742h3v1h-3zM674 741h2v1h-2zM676 742h1v2h-1zM677 744h1v1h-1zM678 745h1v2h-1zM679 747h1v2h-1zM680 749h1v1h-1zM681 750h1v2h-1zM682 752h1v2h-1zM683 754h1v2h-1zM684 755h1v1h-1zM685 756h2v1h-2zM687 757h2v1h-2zM689 758h2v1h-2zM691 759h10v1h-10zM701 760h2v1h-2zM703 761h2v1h-2zM705 762h2v1h-2zM707 763h2v1h-2zM709 764h3v1h-3zM712 765h2v1h-2zM714 766h10v1h-10zM724 764h1v2h-1zM725 763h1v1h-1zM726 761h1v2h-1zM727 760h1v1h-1zM728 758h1v2h-1zM729 757h1v1h-1zM730 755h1v2h-1zM731 754h2v1h-2zM733 755h2v1h-2zM735 756h2v1h-2zM737 757h2v1h-2zM739 758h1v1h-1zM740 756h1v2h-1zM741 755h1v1h-1zM742 753h1v2h-1zM743 752h1v1h-1zM744 750h1v2h-1zM745 749h1v1h-1zM746 747h1v2h-1zM747 746h2v1h-2zM749 745h3v1h-3zM752 744h5v1h-5zM757 745h2v1h-2zM759 746h2v1h-2zM761 747h2v1h-2zM763 748h3v1h-3zM766 749h2v1h-2zM768 750h2v1h-2zM770 751h2v1h-2zM772 749h1v2h-1zM773 746h1v3h-1zM774 744h1v2h-1zM775 742h1v2h-1zM776 739h1v3h-1zM777 737h1v2h-1zM778 735h1v2h-1zM779 733h1v2h-1zM780 733h1v1h-1zM781 734h2v1h-2zM783 735h2v1h-2zM785 736h2v1h-2zM787 737h10v1h-10zM797 736h4v1h-4zM801 735h3v1h-3zM804 736h1v1h-1zM805 737h2v1h-2zM807 738h1v1h-1zM808 739h1v1h-1zM809 740h2v1h-2zM811 741h1v1h-1zM812 742h1v1h-1zM813 743h1v1h-1zM814 744h2v1h-2zM816 745h1v1h-1zM817 746h1v1h-1zM818 747h1v1h-1zM819 748h2v1h-2zM821 749h2v1h-2zM823 750h3v1h-3zM826 751h2v1h-2zM828 752h2v1h-2zM830 753h2v1h-2zM832 754h2v1h-2zM834 755h1v1h-1zM835 756h2v1h-2zM837 757h1v1h-1zM838 758h1v1h-1zM839 759h1v1h-1zM840 760h1v1h-1zM841 761h1v1h-1zM842 762h1v1h-1zM843 763h3v1h-3zM846 764h4v1h-4zM850 765h2v1h-2zM852 764h2v1h-2zM854 763h2v1h-2zM856 762h1v1h-1zM857 761h2v1h-2zM859 760h3v1h-3zM862 761h5v1h-5zM867 762h1v1h-1zM868 761h1v1h-1zM869 759h1v2h-1zM870 758h1v1h-1zM871 757h1v1h-1zM872 756h1v1h-1zM873 755h1v1h-1zM874 754h1v1h-1zM875 753h2v1h-2zM877 754h2v1h-2zM879 755h2v1h-2zM881 756h2v1h-2zM883 757h2v1h-2zM885 758h1v1h-1zM886 759h2v1h-2zM888 760h2v1h-2zM890 761h2v1h-2zM892 762h3v1h-3zM895 763h3v1h-3zM898 764h3v1h-3zM901 765h2v1h-2zM903 766h2v1h-2zM905 767h2v1h-2zM907 768h1v1h-1zM908 767h4v1h-4zM912 766h9v1h-9zM921 767h3v1h-3zM924 768h2v1h-2zM926 769h1v1h-1zM927 770h2v1h-2zM929 771h1v1h-1zM930 772h1v1h-1zM931 773h3v1h-3zM934 774h2v1h-2zM936 775h3v1h-3zM939 776h2v1h-2zM941 775h2v1h-2zM943 774h3v1h-3zM946 773h10v1h-10zM956 772h4v1h-4zM960 771h4v1h-4zM964 770h1v1h-1zM965 769h2v1h-2zM967 768h1v1h-1zM968 767h2v1h-2zM970 766h2v1h-2zM972 765h5v1h-5zM977 764h8v1h-8zM985 765h3v1h-3zM988 764h2v1h-2zM990 763h1v1h-1zM991 762h2v1h-2zM993 761h2v1h-2zM995 760h2v1h-2zM997 761h3v1h-3zM1000 762h3v1h-3zM1003 763h3v1h-3zM1006 764h3v1h-3zM1009 765h2v1h-2zM1011 766h2v1h-2zM1013 767h2v1h-2zM1015 768h2v1h-2zM1017 769h2v1h-2zM1019 769h1v2h-1zM1020 767h1v2h-1zM1021 765h1v2h-1zM1022 762h1v3h-1zM1023 760h1v2h-1zM1024 758h1v2h-1zM1025 755h1v3h-1zM1026 753h1v2h-1zM1027 751h1v2h-1zM1028 752h2v1h-2zM1030 753h2v1h-2zM1032 754h1v1h-1zM1033 755h2v1h-2zM1035 756h1v1h-1zM1036 755h2v1h-2zM1038 754h2v1h-2zM1040 753h2v1h-2zM1042 752h2v1h-2zM1044 751h1v1h-1zM1045 749h1v2h-1zM1046 748h1v1h-1zM1047 747h1v1h-1zM1048 746h1v1h-1zM1049 745h1v1h-1zM1050 744h1v1h-1zM1051 743h2v1h-2zM1053 744h1v1h-1zM1054 745h2v1h-2zM1056 746h2v1h-2zM1058 747h1v1h-1zM1059 748h1v1h-1zM1060 747h5v1h-5zM1065 746h3v1h-3zM1068 745h1v1h-1zM1069 744h2v1h-2zM1071 743h1v1h-1zM1072 742h1v1h-1zM1073 741h1v1h-1zM1074 740h2v1h-2zM1076 739h1v1h-1zM1077 738h1v1h-1zM1078 737h1v1h-1zM1079 736h1v1h-1zM1080 735h1v1h-1zM1081 734h1v1h-1zM1082 733h1v1h-1zM1083 732h5v1h-5zM1088 733h12v1h-12zM1100 732h2v1h-2zM1102 731h2v1h-2zM1104 730h2v1h-2zM1106 729h2v1h-2zM1108 728h3v1h-3zM1111 727h3v1h-3zM1114 726h10v1h-10zM1124 725h1v1h-1zM1125 724h1v1h-1zM1126 723h1v1h-1zM1127 722h2v1h-2zM1129 721h1v1h-1zM1130 720h1v1h-1zM1131 719h1v1h-1zM1132 718h3v1h-3zM1135 717h3v1h-3zM1138 716h4v1h-4zM1142 715h6v1h-6zM1148 714h1v1h-1zM1149 713h2v1h-2zM1151 712h1v1h-1zM1152 711h2v1h-2zM1154 710h3v1h-3zM1157 711h2v1h-2zM1159 712h2v1h-2zM1161 713h2v1h-2zM1163 714h1v1h-1zM1164 715h1v3h-1zM1165 718h1v2h-1zM1166 720h1v2h-1zM1167 722h1v3h-1zM1168 725h1v2h-1zM1169 727h1v3h-1zM1170 730h1v2h-1zM1171 732h1v2h-1zM1172 732h1v1h-1zM1173 730h1v2h-1zM1174 729h1v1h-1zM1175 727h1v2h-1zM1176 726h1v1h-1zM1177 724h1v2h-1zM1178 723h1v1h-1zM1179 722h1v1h-1zM1180 721h1v1h-1zM1181 720h1v1h-1zM1182 719h2v1h-2zM1184 718h1v1h-1zM1185 717h2v1h-2zM1187 716h10v1h-10zM1197 717h2v1h-2zM1199 718h3v1h-3zM1202 719h3v1h-3zM1205 718h3v1h-3zM1208 717h3v1h-3zM1211 716h4v1h-4zM1215 715h5v1h-5z" fill="#1ab2da" shape-rendering="crispEdges"/>
<g shape-rendering="crispEdges" fill="#1ab2da">
<rect x="3" y="839" width="1" height="3"/>
<rect x="11" y="841" width="1" height="1"/>
<rect x="19" y="841" width="1" height="1"/>
<rect x="27" y="842" width="1" height="2"/>
<rect x="35" y="842" width="1" height="4"/>
<rect x="43" y="842" width="1" height="6"/>
<rect x="51" y="842" width="1" height="4"/>
<rect x="59" y="842" width="1" height="3"/>
<rect x="67" y="842" width="1" height="2"/>
<rect x="75" y="842" width="1" height="1"/>
<rect x="99" y="840" width="1" height="2"/>
<rect x="107" y="838" width="1" height="4"/>
<rect x="115" y="836" width="1" height="6"/>
<rect x="123" y="835" width="1" height="7"/>
<rect x="131" y="834" width="1" height="8"/>
<rect x="139" y="834" width="1" height="8"/>
<rect x="147" y="832" width="1" height="10"/>
<rect x="155" y="832" width="1" height="10"/>
<rect x="163" y="834" width="1" height="8"/>
<rect x="171" y="834" width="1" height="8"/>
<rect x="179" y="834" width="1" height="8"/>
<rect x="187" y="833" width="1" height="9"/>
<rect x="195" y="832" width="1" height="10"/>
<rect x="203" y="831" width="1" height="11"/>
<rect x="211" y="830" width="1" height="12"/>
<rect x="219" y="829" width="1" height="13"/>
<rect x="227" y="828" width="1" height="14"/>
<rect x="235" y="827" width="1" height="15"/>
<rect x="243" y="825" width="1" height="17"/>
<rect x="251" y="824" width="1" height="18"/>
<rect x="259" y="822" width="1" height="20"/>
<rect x="267" y="822" width="1" height="20"/>
<rect x="275" y="822" width="1" height="20"/>
<rect x="283" y="824" width="1" height="18"/>
<rect x="291" y="825" width="1" height="17"/>
<rect x="299" y="826" width="1" height="16"/>
<rect x="307" y="826" width="1" height="16"/>
<rect x="315" y="826" width="1" height="16"/>
<rect x="323" y="826" width="1" height="16"/>
<rect x="331" y="826" width="1" height="16"/>
<rect x="339" y="826" width="1" height="16"/>
<rect x="347" y="826" width="1" height="16"/>
<rect x="355" y="826" width="1" height="16"/>
<rect x="363" y="826" width="1" height="16"/>
<rect x="371" y="826" width="1" height="16"/>
<rect x="379" y="826" width="1" height="16"/>
<rect x="387" y="827" width="1" height="15"/>
<rect x="395" y="831" width="1" height="11"/>
<rect x="403" y="833" width="1" height="9"/>
<rect x="411" y="835" width="1" height="7"/>
<rect x="419" y="837" width="1" height="5"/>
<rect x="427" y="837" width="1" height="5"/>
<rect x="435" y="839" width="1" height="3"/>
<rect x="443" y="839" width="1" height="3"/>
<rect x="451" y="841" width="1" height="1"/>
<rect x="467" y="842" width="1" height="1"/>
<rect x="475" y="842" width="1" height="4"/>
<rect x="483" y="842" width="1" height="10"/>
<rect x="491" y="842" width="1" height="14"/>
<rect x="499" y="842" width="1" height="16"/>
<rect x="507" y="842" width="1" height="18"/>
<rect x="515" y="842" width="1" height="18"/>
<rect x="523" y="842" width="1" height="18"/>
<rect x="531" y="842" width="1" height="16"/>
<rect x="539" y="842" width="1" height="13"/>
<rect x="547" y="842" width="1" height="11"/>
<rect x="555" y="842" width="1" height="9"/>
<rect x="563" y="842" width="1" height="7"/>
<rect x="571" y="842" width="1" height="5"/>
<rect x="579" y="842" width="1" height="4"/>
<rect x="587" y="842" width="1" height="3"/>
<rect x="595" y="842" width="1" height="3"/>
<rect x="603" y="842" width="1" height="5"/>
<rect x="611" y="842" width="1" height="6"/>
<rect x="619" y="842" width="1" height="7"/>
<rect x="627" y="842" width="1" height="7"/>
<rect x="635" y="842" width="1" height="7"/>
<rect x="643" y="842" width="1" height="7"/>
<rect x="651" y="842" width="1" height="7"/>
<rect x="659" y="842" width="1" height="9"/>
<rect x="667" y="842" width="1" height="8"/>
<rect x="675" y="842" width="1" height="8"/>
<rect x="683" y="842" width="1" height="11"/>
<rect x="691" y="842" width="1" height="14"/>
<rect x="699" y="842" width="1" height="16"/>
<rect x="707" y="842" width="1" height="19"/>
<rect x="715" y="842" width="1" height="21"/>
<rect x="723" y="842" width="1" height="24"/>
<rect x="731" y="842" width="1" height="24"/>
<rect x="739" y="842" width="1" height="24"/>
<rect x="747" y="842" width="1" height="22"/>
<rect x="755" y="842" width="1" height="21"/>
<rect x="763" y="842" width="1" height="20"/>
<rect x="771" y="842" width="1" height="20"/>
<rect x="779" y="842" width="1" height="16"/>
<rect x="787" y="842" width="1" height="14"/>
<rect x="795" y="842" width="1" height="12"/>
<rect x="803" y="842" width="1" height="11"/>
<rect x="811" y="842" width="1" height="11"/>
<rect x="819" y="842" width="1" height="12"/>
<rect x="827" y="842" width="1" height="14"/>
<rect x="835" y="842" width="1" height="17"/>
<rect x="843" y="842" width="1" height="22"/>
<rect x="851" y="842" width="1" height="28"/>
<rect x="859" y="842" width="1" height="30"/>
<rect x="867" y="842" width="1" height="32"/>
<rect x="875" y="842" width="1" height="32"/>
<rect x="883" y="842" width="1" height="34"/>
<rect x="891" y="842" width="1" height="36"/>
<rect x="899" y="842" width="1" height="38"/>
<rect x="907" y="842" width="1" height="43"/>
<rect x="915" y="842" width="1" height="45"/>
<rect x="923" y="842" width="1" height="48"/>
<rect x="931" y="842" width="1" height="52"/>
<rect x="939" y="842" width="1" height="60"/>
<rect x="947" y="842" width="1" height="63"/>
<rect x="955" y="842" width="1" height="65"/>
<rect x="963" y="842" width="1" height="67"/>
<rect x="971" y="842" width="1" height="65"/>
<rect x="979" y="842" width="1" height="64"/>
<rect x="987" y="842" width="1" height="61"/>
<rect x="995" y="842" width="1" height="58"/>
<rect x="1003" y="842" width="1" height="58"/>
<rect x="1011" y="842" width="1" height="56"/>
<rect x="1019" y="842" width="1" height="58"/>
<rect x="1027" y="842" width="1" height="54"/>
<rect x="1035" y="842" width="1" height="53"/>
<rect x="1043" y="842" width="1" height="50"/>
<rect x="1051" y="842" width="1" height="46"/>
<rect x="1059" y="842" width="1" height="43"/>
<rect x="1067" y="842" width="1" height="40"/>
<rect x="1075" y="842" width="1" height="36"/>
<rect x="1083" y="842" width="1" height="30"/>
<rect x="1091" y="842" width="1" height="24"/>
<rect x="1099" y="842" width="1" height="20"/>
<rect x="1107" y="842" width="1" height="14"/>
<rect x="1115" y="842" width="1" height="9"/>
<rect x="1123" y="842" width="1" height="4"/>
<rect x="1139" y="836" width="1" height="6"/>
<rect x="1147" y="831" width="1" height="11"/>
<rect x="1155" y="825" width="1" height="17"/>
<rect x="1163" y="821" width="1" height="21"/>
<rect x="1171" y="824" width="1" height="18"/>
<rect x="1179" y="821" width="1" height="21"/>
<rect x="1187" y="816" width="1" height="26"/>
<rect x="1195" y="812" width="1" height="30"/>
<rect x="1203" y="811" width="1" height="31"/>
<rect x="1211" y="808" width="1" height="34"/>
<rect x="1219" y="806" width="1" height="36"/>
</g>
<path d="M3 835h6v1h-6zM9 836h7v1h-7zM16 837h10v1h-10zM26 838h7v1h-7zM33 839h5v1h-5zM38 840h5v1h-5zM43 841h6v1h-6zM49 842h7v1h-7zM56 843h8v1h-8zM64 844h8v1h-8zM72 845h22v1h-22zM94 844h8v1h-8zM102 843h8v1h-8zM110 842h6v1h-6zM116 841h5v1h-5zM121 840h6v1h-6zM127 839h6v1h-6zM133 838h5v1h-5zM138 837h5v1h-5zM143 836h8v1h-8zM151 835h7v1h-7zM158 834h10v1h-10zM168 833h23v1h-23zM191 832h17v1h-17zM208 831h15v1h-15zM223 830h10v1h-10zM233 829h7v1h-7zM240 828h8v1h-8zM248 827h7v1h-7zM255 826h6v1h-6zM261 825h5v1h-5zM266 824h8v1h-8zM274 823h4v1h-4zM278 824h6v1h-6zM284 823h46v1h-46zM330 824h26v1h-26zM356 825h45v1h-45zM401 826h6v1h-6zM407 827h8v1h-8zM415 828h5v1h-5zM420 829h6v1h-6zM426 830h7v1h-7zM433 831h6v1h-6zM439 832h5v1h-5zM444 833h4v1h-4zM448 834h5v1h-5zM453 835h5v1h-5zM458 836h5v1h-5zM463 837h5v1h-5zM468 838h4v1h-4zM472 839h5v1h-5zM477 840h5v1h-5zM482 841h5v1h-5zM487 842h3v1h-3zM490 843h2v1h-2zM492 844h3v1h-3zM495 845h2v1h-2zM497 846h3v1h-3zM500 847h4v1h-4zM504 848h2v1h-2zM506 849h3v1h-3zM509 850h3v1h-3zM512 851h4v1h-4zM516 852h4v1h-4zM520 853h4v1h-4zM524 854h4v1h-4zM528 855h7v1h-7zM535 856h8v1h-8zM543 857h12v1h-12zM555 856h10v1h-10zM565 855h6v1h-6zM571 854h5v1h-5zM576 853h5v1h-5zM581 852h4v1h-4zM585 851h5v1h-5zM590 850h6v1h-6zM596 849h7v1h-7zM603 848h9v1h-9zM612 847h27v1h-27zM639 848h19v1h-19zM658 849h5v1h-5zM663 850h23v1h-23zM686 851h11v1h-11zM697 852h6v1h-6zM703 853h5v1h-5zM708 854h5v1h-5zM713 855h6v1h-6zM719 856h5v1h-5zM724 857h5v1h-5zM729 858h4v1h-4zM733 859h4v1h-4zM737 860h6v1h-6zM743 861h5v1h-5zM748 862h6v1h-6zM754 863h11v1h-11zM765 864h19v1h-19zM784 863h7v1h-7zM791 862h5v1h-5zM796 861h5v1h-5zM801 860h6v1h-6zM807 859h6v1h-6zM813 858h7v1h-7zM820 857h31v1h-31zM851 858h4v1h-4zM855 859h4v1h-4zM859 860h3v1h-3zM862 861h4v1h-4zM866 862h4v1h-4zM870 863h3v1h-3zM873 864h3v1h-3zM876 865h3v1h-3zM879 866h2v1h-2zM881 867h3v1h-3zM884 868h2v1h-2zM886 869h3v1h-3zM889 870h3v1h-3zM892 871h3v1h-3zM895 872h3v1h-3zM898 873h2v1h-2zM900 874h2v1h-2zM902 875h3v1h-3zM905 876h2v1h-2zM907 877h3v1h-3zM910 878h3v1h-3zM913 879h3v1h-3zM916 880h3v1h-3zM919 881h4v1h-4zM923 882h3v1h-3zM926 883h3v1h-3zM929 884h3v1h-3zM932 885h3v1h-3zM935 886h2v1h-2zM937 887h3v1h-3zM940 888h3v1h-3zM943 889h2v1h-2zM945 890h2v1h-2zM947 891h2v1h-2zM949 892h3v1h-3zM952 893h4v1h-4zM956 894h4v1h-4zM960 895h3v1h-3zM963 896h3v1h-3zM966 897h2v1h-2zM968 898h3v1h-3zM971 899h4v1h-4zM975 900h3v1h-3zM978 901h5v1h-5zM983 902h4v1h-4zM987 903h4v1h-4zM991 904h7v1h-7zM998 905h14v1h-14zM1012 904h8v1h-8zM1020 903h6v1h-6zM1026 902h5v1h-5zM1031 901h5v1h-5zM1036 900h6v1h-6zM1042 899h5v1h-5zM1047 898h4v1h-4zM1051 897h4v1h-4zM1055 896h5v1h-5zM1060 895h5v1h-5zM1065 894h4v1h-4zM1069 893h3v1h-3zM1072 892h3v1h-3zM1075 891h3v1h-3zM1078 890h2v1h-2zM1080 889h3v1h-3zM1083 888h2v1h-2zM1085 887h2v1h-2zM1087 886h2v1h-2zM1089 885h2v1h-2zM1091 884h2v1h-2zM1093 883h2v1h-2zM1095 882h3v1h-3zM1098 881h2v1h-2zM1100 880h1v1h-1zM1101 879h2v1h-2zM1103 878h2v1h-2zM1105 877h1v1h-1zM1106 876h2v1h-2zM1108 875h2v1h-2zM1110 874h2v1h-2zM1112 873h2v1h-2zM1114 872h2v1h-2zM1116 871h1v1h-1zM1117 870h2v1h-2zM1119 869h2v1h-2zM1121 868h1v1h-1zM1122 867h2v1h-2zM1124 866h2v1h-2zM1126 865h1v1h-1zM1127 864h2v1h-2zM1129 863h2v1h-2zM1131 862h1v1h-1zM1132 861h2v1h-2zM1134 860h1v1h-1zM1135 859h2v1h-2zM1137 858h2v1h-2zM1139 857h1v1h-1zM1140 856h1v1h-1zM1141 855h2v1h-2zM1143 854h1v1h-1zM1144 853h2v1h-2zM1146 852h1v1h-1zM1147 851h1v1h-1zM1148 850h2v1h-2zM1150 849h2v1h-2zM1152 848h1v1h-1zM1153 847h2v1h-2zM1155 846h1v1h-1zM1156 845h2v1h-2zM1158 844h2v1h-2zM1160 843h1v1h-1zM1161 842h2v1h-2zM1163 841h1v1h-1zM1164 840h2v1h-2zM1166 839h2v1h-2zM1168 838h2v1h-2zM1170 837h1v1h-1zM1171 836h3v1h-3zM1174 835h2v1h-2zM1176 834h2v1h-2zM1178 833h2v1h-2zM1180 832h1v1h-1zM1181 831h2v1h-2zM1183 830h2v1h-2zM1185 829h2v1h-2zM1187 828h2v1h-2zM1189 827h2v1h-2zM1191 826h2v1h-2zM1193 825h2v1h-2zM1195 824h2v1h-2zM1197 823h3v1h-3zM1200 822h2v1h-2zM1202 821h2v1h-2zM1204 820h3v1h-3zM1207 819h2v1h-2zM1209 818h3v1h-3zM1212 817h3v1h-3zM1215 816h2v1h-2zM1217 815h2v1h-2z" fill="#000" shape-rendering="crispEdges"/>
<g shape-rendering="crispEdges" fill="#3c3c3c">
<rect x="2" y="2" width="1864" height="1"/>
<rect x="2" y="2" width="1" height="668"/>
<rect x="2" y="669" width="1864" height="1"/>
<rect x="2" y="671" width="1864" height="1"/>
<rect x="2" y="671" width="1" height="126"/>
<rect x="2" y="796" width="1864" height="1"/>
<rect x="2" y="798" width="1864" height="1"/>
<rect x="2" y="798" width="1" height="118"/>
<rect x="2" y="915" width="1864" height="1"/>
<rect x="1865" y="2" width="1" height="914"/>
<rect x="1866" y="6" width="2" height="1"/>
<rect x="1866" y="39" width="2" height="1"/>
<rect x="1866" y="72" width="2" height="1"/>
<rect x="1866" y="105" width="2" height="1"/>
<rect x="1866" y="138" width="2" height="1"/>
<rect x="1866" y="171" width="2" height="1"/>
<rect x="1866" y="204" width="2" height="1"/>
<rect x="1866" y="237" width="2" height="1"/>
<rect x="1866" y="270" width="2" height="1"/>
<rect x="1866" y="303" width="2" height="1"/>
<rect x="1866" y="336" width="2" height="1"/>
<rect x="1866" y="369" width="2" height="1"/>
<rect x="1866" y="402" width="2" height="1"/>
<rect x="1866" y="435" width="2" height="1"/>
<rect x="1866" y="468" width="2" height="1"/>
<rect x="1866" y="501" width="2" height="1"/>
<rect x="1866" y="534" width="2" height="1"/>
<rect x="1866" y="567" width="2" height="1"/>
<rect x="1866" y="600" width="2" height="1"/>
<rect x="1866" y="633" width="2" height="1"/>
<rect x="1866" y="666" width="2" height="1"/>
<rect x="1866" y="673" width="2" height="1"/>
<rect x="1866" y="794" width="2" height="1"/>
<rect x="1866" y="800" width="2" height="1"/>
<rect x="1866" y="841" width="2" height="1"/>
<rect x="3" y="916" width="1" height="3"/>
<rect x="67" y="916" width="1" height="3"/>
<rect x="131" y="916" width="1" height="3"/>
<rect x="195" y="916" width="1" height="3"/>
<rect x="259" y="916" width="1" height="3"/>
<rect x="323" y="916" width="1" height="3"/>
<rect x="387" y="916" width="1" height="3"/>
<rect x="451" y="916" width="1" height="3"/>
<rect x="515" y="916" width="1" height="3"/>
<rect x="579" y="916" width="1" height="3"/>
<rect x="643" y="916" width="1" height="3"/>
<rect x="707" y="916" width="1" height="3"/>
<rect x="771" y="916" width="1" height="3"/>
<rect x="835" y="916" width="1" height="3"/>
<rect x="899" y="916" width="1" height="3"/>
<rect x="963" y="916" width="1" height="3"/>
<rect x="1027" y="916" width="1" height="3"/>
<rect x="1091" y="916" width="1" height="3"/>
<rect x="1155" y="916" width="1" height="3"/>
<rect x="1219" y="916" width="1" height="3"/>
</g>
<text class="s" x="1871.5" y="9.6" textLength="37.3" lengthAdjust="spacingAndGlyphs">13276.00</text>
<text class="s" x="1871.5" y="42.6" textLength="37.3" lengthAdjust="spacingAndGlyphs">13177.00</text>
<text class="s" x="1871.5" y="75.6" textLength="37.3" lengthAdjust="spacingAndGlyphs">13075.00</text>
<text class="s" x="1871.5" y="108.6" textLength="37.3" lengthAdjust="spacingAndGlyphs">12976.00</text>
<text class="s" x="1871.5" y="141.6" textLength="37.3" lengthAdjust="spacingAndGlyphs">12877.00</text>
<text class="s" x="1871.5" y="174.6" textLength="37.3" lengthAdjust="spacingAndGlyphs">12778.00</text>
<text class="s" x="1871.5" y="207.6" textLength="37.3" lengthAdjust="spacingAndGlyphs">12679.00</text>
<text class="s" x="1871.5" y="240.6" textLength="37.3" lengthAdjust="spacingAndGlyphs">12580.00</text>
<text class="s" x="1871.5" y="273.6" textLength="37.3" lengthAdjust="spacingAndGlyphs">12478.00</text>
<text class="s" x="1871.5" y="306.6" textLength="37.3" lengthAdjust="spacingAndGlyphs">12379.00</text>
<text class="s" x="1871.5" y="339.6" textLength="37.3" lengthAdjust="spacingAndGlyphs">12280.00</text>
<text class="s" x="1871.5" y="372.6" textLength="37.3" lengthAdjust="spacingAndGlyphs">12181.00</text>
<text class="s" x="1871.5" y="405.6" textLength="37.3" lengthAdjust="spacingAndGlyphs">12082.00</text>
<text class="s" x="1871.5" y="438.6" textLength="37.3" lengthAdjust="spacingAndGlyphs">11983.00</text>
<text class="s" x="1871.5" y="471.6" textLength="37.3" lengthAdjust="spacingAndGlyphs">11881.00</text>
<text class="s" x="1871.5" y="504.6" textLength="37.3" lengthAdjust="spacingAndGlyphs">11782.00</text>
<text class="s" x="1871.5" y="537.6" textLength="37.3" lengthAdjust="spacingAndGlyphs">11683.00</text>
<text class="s" x="1871.5" y="570.6" textLength="37.3" lengthAdjust="spacingAndGlyphs">11584.00</text>
<text class="s" x="1871.5" y="603.6" textLength="37.3" lengthAdjust="spacingAndGlyphs">11485.00</text>
<text class="s" x="1871.5" y="636.6" textLength="37.3" lengthAdjust="spacingAndGlyphs">11386.00</text>
<text class="s" x="1871.5" y="669.6" textLength="37.3" lengthAdjust="spacingAndGlyphs">11287.00</text>
<rect x="1867" y="81" width="46" height="11" fill="#000" shape-rendering="crispEdges"/>
<text class="w" x="1871.5" y="89.9" textLength="37.3" lengthAdjust="spacingAndGlyphs">13030.00</text>
<rect x="1867" y="183" width="46" height="11" fill="#000" shape-rendering="crispEdges"/>
<text class="w" x="1871.5" y="191.9" textLength="37.3" lengthAdjust="spacingAndGlyphs">12723.00</text>
<rect x="1867" y="255" width="46" height="11" fill="#000" shape-rendering="crispEdges"/>
<text class="w" x="1871.5" y="263.9" textLength="37.3" lengthAdjust="spacingAndGlyphs">12505.00</text>
<rect x="1867" y="272" width="46" height="11" fill="#000" shape-rendering="crispEdges"/>
<text class="w" x="1871.5" y="280.9" textLength="37.3" lengthAdjust="spacingAndGlyphs">12456.00</text>
<rect x="1867" y="345" width="46" height="11" fill="#000" shape-rendering="crispEdges"/>
<text class="w" x="1871.5" y="353.9" textLength="37.3" lengthAdjust="spacingAndGlyphs">12234.00</text>
<rect x="1867" y="436" width="46" height="11" fill="#000" shape-rendering="crispEdges"/>
<text class="w" x="1871.5" y="444.9" textLength="37.3" lengthAdjust="spacingAndGlyphs">11960.00</text>
<rect x="1867" y="494" width="46" height="11" fill="#000" shape-rendering="crispEdges"/>
<text class="w" x="1871.5" y="502.9" textLength="37.3" lengthAdjust="spacingAndGlyphs">11785.00</text>
<rect x="1867" y="520" width="46" height="11" fill="#000" shape-rendering="crispEdges"/>
<text class="w" x="1871.5" y="528.9" textLength="37.3" lengthAdjust="spacingAndGlyphs">11709.00</text>
<rect x="1867" y="602" width="46" height="11" fill="#000" shape-rendering="crispEdges"/>
<text class="w" x="1871.5" y="610.9" textLength="37.3" lengthAdjust="spacingAndGlyphs">11460.00</text>
<rect x="1867" y="647" width="46" height="11" fill="#000" shape-rendering="crispEdges"/>
<text class="w" x="1871.5" y="655.9" textLength="37.3" lengthAdjust="spacingAndGlyphs">11325.00</text>
<rect x="1867" y="303" width="46" height="11" fill="#424242" shape-rendering="crispEdges"/>
<text class="w" x="1871.5" y="311.9" textLength="37.3" lengthAdjust="spacingAndGlyphs">12365.20</text>
<text class="s" x="1869.5" y="681.7" textLength="14" lengthAdjust="spacingAndGlyphs">100</text>
<text class="s" x="1868.2" y="700.7" textLength="9.6" lengthAdjust="spacingAndGlyphs">80</text>
<text class="s" x="1868.2" y="774.7" textLength="9.6" lengthAdjust="spacingAndGlyphs">20</text>
<text class="s" x="1869.5" y="792.7" textLength="4.8" lengthAdjust="spacingAndGlyphs">0</text>
<text class="s" x="1869.5" y="808.7" textLength="32" lengthAdjust="spacingAndGlyphs">158.601</text>
<text class="s" x="1869.5" y="844.7" textLength="17.5" lengthAdjust="spacingAndGlyphs">0.00</text>
<text class="s" x="1869.1" y="911" textLength="35.5" lengthAdjust="spacingAndGlyphs">-282.939</text>
<text class="s" x="2.5" y="927.7" textLength="45.5" lengthAdjust="spacingAndGlyphs">1 Oct 2020</text>
<text class="s" x="66.5" y="927.7" textLength="48.6" lengthAdjust="spacingAndGlyphs">4 Oct 23:05</text>
<text class="s" x="130.5" y="927.7" textLength="48.6" lengthAdjust="spacingAndGlyphs">6 Oct 04:00</text>
<text class="s" x="194.5" y="927.7" textLength="48.6" lengthAdjust="spacingAndGlyphs">7 Oct 12:00</text>
<text class="s" x="258.5" y="927.7" textLength="48.6" lengthAdjust="spacingAndGlyphs">8 Oct 20:00</text>
<text class="s" x="322.5" y="927.7" textLength="53.8" lengthAdjust="spacingAndGlyphs">12 Oct 00:00</text>
<text class="s" x="386.5" y="927.7" textLength="53.8" lengthAdjust="spacingAndGlyphs">13 Oct 08:00</text>
<text class="s" x="450.5" y="927.7" textLength="53.8" lengthAdjust="spacingAndGlyphs">14 Oct 16:00</text>
<text class="s" x="514.5" y="927.7" textLength="53.8" lengthAdjust="spacingAndGlyphs">16 Oct 00:00</text>
<text class="s" x="578.5" y="927.7" textLength="53.8" lengthAdjust="spacingAndGlyphs">19 Oct 04:00</text>
<text class="s" x="642.5" y="927.7" textLength="53.8" lengthAdjust="spacingAndGlyphs">20 Oct 12:00</text>
<text class="s" x="706.5" y="927.7" textLength="53.8" lengthAdjust="spacingAndGlyphs">21 Oct 20:00</text>
<text class="s" x="770.5" y="927.7" textLength="53.8" lengthAdjust="spacingAndGlyphs">23 Oct 04:00</text>
<text class="s" x="834.5" y="927.7" textLength="53.8" lengthAdjust="spacingAndGlyphs">26 Oct 08:00</text>
<text class="s" x="898.5" y="927.7" textLength="53.8" lengthAdjust="spacingAndGlyphs">27 Oct 16:00</text>
<text class="s" x="962.5" y="927.7" textLength="53.8" lengthAdjust="spacingAndGlyphs">29 Oct 00:00</text>
<text class="s" x="1026.5" y="927.7" textLength="53.8" lengthAdjust="spacingAndGlyphs">30 Oct 08:00</text>
<text class="s" x="1090.5" y="927.7" textLength="48.6" lengthAdjust="spacingAndGlyphs">2 Nov 12:00</text>
<text class="s" x="1154.5" y="927.7" textLength="48.6" lengthAdjust="spacingAndGlyphs">3 Nov 20:00</text>
<text class="s" x="1218.5" y="927.7" textLength="48.6" lengthAdjust="spacingAndGlyphs">5 Nov 04:00</text>
<path d="M6 9 L13 9 L9.5 13 Z" fill="#3c3c3c"/>
<text class="s" x="18.6" y="14" textLength="61.2" lengthAdjust="spacingAndGlyphs">.DE30Cash,H4</text>
<text class="s" x="86.5" y="14" textLength="36.9" lengthAdjust="spacingAndGlyphs">12337.50</text>
<text class="s" x="127.5" y="14" textLength="36.9" lengthAdjust="spacingAndGlyphs">12399.00</text>
<text class="s" x="168.5" y="14" textLength="36.9" lengthAdjust="spacingAndGlyphs">12313.20</text>
<text class="s" x="209.5" y="14" textLength="36.9" lengthAdjust="spacingAndGlyphs">12365.20</text>
<text class="s" x="7.5" y="684" textLength="67.3" lengthAdjust="spacingAndGlyphs">RSI(14) 65.5559</text>
<text class="s" x="7.5" y="811" textLength="132.5" lengthAdjust="spacingAndGlyphs">MACD(12,26,9) 138.531 99.129</text>
<text class="b" x="1680.6" y="184.6" textLength="47.4" lengthAdjust="spacingAndGlyphs" fill="#1eb0dc"><tspan dy="-2.2">~</tspan><tspan dy="2.2">12723</tspan></text>
<text class="b" x="1697.3" y="256.6" textLength="47.8" lengthAdjust="spacingAndGlyphs" fill="#1eb0dc"><tspan dy="-2.2">~</tspan><tspan dy="2.2">12505</tspan></text>
<text class="b" x="1658.8" y="276.5" textLength="47.4" lengthAdjust="spacingAndGlyphs" fill="#1eb0dc"><tspan dy="-2.2">~</tspan><tspan dy="2.2">12456</tspan></text>
<text class="b" x="1683.4" y="347" textLength="48.1" lengthAdjust="spacingAndGlyphs" fill="#1eb0dc"><tspan dy="-2.2">~</tspan><tspan dy="2.2">12234</tspan></text>
<text class="b" x="1683.1" y="438" textLength="48.4" lengthAdjust="spacingAndGlyphs" fill="#4a5866"><tspan dy="-2.2">~</tspan><tspan dy="2.2">11960</tspan></text>
<text class="b" x="1685.5" y="498" textLength="47.6" lengthAdjust="spacingAndGlyphs" fill="#4a5866"><tspan dy="-2.2">~</tspan><tspan dy="2.2">11785</tspan></text>
<text class="b" x="1687.1" y="524.9" textLength="48.3" lengthAdjust="spacingAndGlyphs" fill="#4a5866"><tspan dy="-2.2">~</tspan><tspan dy="2.2">11709</tspan></text>
<text class="b" x="1687.1" y="604.8" textLength="48.3" lengthAdjust="spacingAndGlyphs" fill="#4a5866"><tspan dy="-2.2">~</tspan><tspan dy="2.2">11460</tspan></text>
<text class="b" x="1057.5" y="229.9" textLength="58.3" lengthAdjust="spacingAndGlyphs" fill="#000">200 EMA</text>
<text class="b" x="1055.2" y="315.2" textLength="58" lengthAdjust="spacingAndGlyphs" fill="#1fe01f">100 EMA</text>
<text class="b" x="980" y="337" textLength="49.8" lengthAdjust="spacingAndGlyphs" fill="#f01010">50 EMA</text>
<text class="b" x="958.8" y="406.4" textLength="49.8" lengthAdjust="spacingAndGlyphs" fill="#ffc000">21 EMA</text>
<rect x="178" y="15" width="116.5" height="69" fill="#fff"/>
<g fill="url(#lg)" stroke="url(#lg)" stroke-width="1" font-size="100" font-weight="bold">
<g clip-path="url(#jclip)"><text x="0" y="0" transform="translate(181.3,72.1) scale(0.51,0.66)" vector-effect="non-scaling-stroke">J</text></g>
<g clip-path="url(#fclip)"><text x="0" y="0" transform="translate(209.9,72.1) scale(0.61,0.66)" vector-effect="non-scaling-stroke">F</text></g>
<g clip-path="url(#dclip)"><text x="0" y="0" transform="translate(243.6,72.1) scale(0.62,0.66)" vector-effect="non-scaling-stroke">D</text></g>
<rect x="251.1" y="26.1" width="1.9" height="46.5" stroke="none" fill="url(#lgr)"/><rect x="248.5" y="41.9" width="7.1" height="15" stroke="none" fill="url(#lgr)"/>
</g>
</svg></body></html>
